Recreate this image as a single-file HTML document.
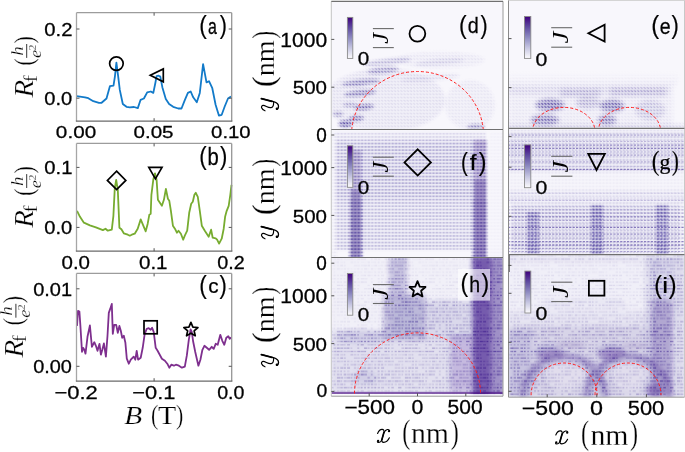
<!DOCTYPE html><html><head><meta charset="utf-8"><style>html,body{margin:0;padding:0;background:#fff;}svg{display:block;}</style></head><body><svg width="685" height="452" viewBox="0 0 685 452">
<defs>
<linearGradient id="cb" x1="0" y1="0" x2="0" y2="1"><stop offset="0" stop-color="#3f007d"/><stop offset="0.25" stop-color="#5f4ba0"/><stop offset="0.5" stop-color="#8e8bc1"/><stop offset="0.75" stop-color="#c7c7e2"/><stop offset="1" stop-color="#fcfbfd"/></linearGradient>
<filter id="b05" x="-30%" y="-30%" width="160%" height="160%"><feGaussianBlur stdDeviation="0.5"/></filter>
<filter id="b1" x="-30%" y="-30%" width="160%" height="160%"><feGaussianBlur stdDeviation="1"/></filter>
<filter id="b2" x="-30%" y="-30%" width="160%" height="160%"><feGaussianBlur stdDeviation="2"/></filter>
<filter id="b4" x="-30%" y="-30%" width="160%" height="160%"><feGaussianBlur stdDeviation="4"/></filter>
<filter id="b8" x="-30%" y="-30%" width="160%" height="160%"><feGaussianBlur stdDeviation="8"/></filter>
<pattern id="q" width="3.2" height="3.2" patternUnits="userSpaceOnUse"><path d="M0.4,0.9 L2.5,2.1" stroke="#4f3d9e" stroke-width="1.1"/></pattern>
<pattern id="qh" width="3.4" height="3.3" patternUnits="userSpaceOnUse"><rect x="0.4" y="1.1" width="2.6" height="1.1" fill="#4a3ca0"/></pattern>
<pattern id="qv" width="3.4" height="3.3" patternUnits="userSpaceOnUse"><rect x="1.1" y="0.4" width="1.1" height="2.3" fill="#4f3d9e"/></pattern>

<pattern id="qn" width="68.00" height="46.20" patternUnits="userSpaceOnUse"><rect x="0.30" y="1.00" width="1.73" height="1.3" fill="#4f3d9e" opacity="0.71"/><rect x="3.70" y="1.00" width="1.70" height="1.3" fill="#4f3d9e" opacity="0.55"/><rect x="7.10" y="1.00" width="2.38" height="1.3" fill="#4f3d9e" opacity="0.37"/><rect x="17.30" y="1.00" width="1.82" height="1.3" fill="#4f3d9e" opacity="0.81"/><rect x="20.70" y="1.00" width="3.31" height="1.3" fill="#4f3d9e" opacity="0.70"/><rect x="24.10" y="1.00" width="3.36" height="1.3" fill="#4f3d9e" opacity="0.57"/><rect x="30.90" y="1.00" width="1.86" height="1.3" fill="#4f3d9e" opacity="0.51"/><rect x="37.70" y="1.00" width="1.93" height="1.3" fill="#4f3d9e" opacity="0.80"/><rect x="41.10" y="1.00" width="2.27" height="1.3" fill="#4f3d9e" opacity="0.70"/><rect x="44.50" y="1.00" width="1.71" height="1.3" fill="#4f3d9e" opacity="0.38"/><rect x="47.90" y="1.00" width="2.37" height="1.3" fill="#4f3d9e" opacity="0.73"/><rect x="51.30" y="1.00" width="2.42" height="1.3" fill="#4f3d9e" opacity="0.67"/><rect x="54.70" y="1.00" width="2.86" height="1.3" fill="#4f3d9e" opacity="0.79"/><rect x="58.10" y="1.00" width="2.55" height="1.3" fill="#4f3d9e" opacity="0.67"/><rect x="61.50" y="1.00" width="2.12" height="1.3" fill="#4f3d9e" opacity="0.75"/><rect x="64.90" y="1.00" width="2.35" height="1.3" fill="#4f3d9e" opacity="0.41"/><rect x="0.30" y="4.30" width="1.67" height="1.3" fill="#4f3d9e" opacity="0.79"/><rect x="3.70" y="4.30" width="2.63" height="1.3" fill="#4f3d9e" opacity="0.99"/><rect x="7.10" y="4.30" width="2.85" height="1.3" fill="#4f3d9e" opacity="0.67"/><rect x="10.50" y="4.30" width="2.42" height="1.3" fill="#4f3d9e" opacity="0.86"/><rect x="13.90" y="4.30" width="2.45" height="1.3" fill="#4f3d9e" opacity="1.00"/><rect x="17.30" y="4.30" width="2.86" height="1.3" fill="#4f3d9e" opacity="0.49"/><rect x="20.70" y="4.30" width="3.08" height="1.3" fill="#4f3d9e" opacity="1.00"/><rect x="24.10" y="4.30" width="2.80" height="1.3" fill="#4f3d9e" opacity="0.72"/><rect x="30.90" y="4.30" width="1.81" height="1.3" fill="#4f3d9e" opacity="0.57"/><rect x="37.70" y="4.30" width="2.05" height="1.3" fill="#4f3d9e" opacity="0.54"/><rect x="41.10" y="4.30" width="1.75" height="1.3" fill="#4f3d9e" opacity="1.00"/><rect x="44.50" y="4.30" width="3.19" height="1.3" fill="#4f3d9e" opacity="0.84"/><rect x="47.90" y="4.30" width="2.10" height="1.3" fill="#4f3d9e" opacity="1.00"/><rect x="51.30" y="4.30" width="3.19" height="1.3" fill="#4f3d9e" opacity="0.70"/><rect x="54.70" y="4.30" width="1.92" height="1.3" fill="#4f3d9e" opacity="0.55"/><rect x="58.10" y="4.30" width="2.47" height="1.3" fill="#4f3d9e" opacity="0.61"/><rect x="61.50" y="4.30" width="1.61" height="1.3" fill="#4f3d9e" opacity="0.63"/><rect x="64.90" y="4.30" width="2.62" height="1.3" fill="#4f3d9e" opacity="0.71"/><rect x="0.30" y="7.60" width="2.71" height="1.3" fill="#4f3d9e" opacity="0.89"/><rect x="3.70" y="7.60" width="3.22" height="1.3" fill="#4f3d9e" opacity="0.53"/><rect x="7.10" y="7.60" width="3.04" height="1.3" fill="#4f3d9e" opacity="1.00"/><rect x="10.50" y="7.60" width="1.79" height="1.3" fill="#4f3d9e" opacity="0.80"/><rect x="13.90" y="7.60" width="1.72" height="1.3" fill="#4f3d9e" opacity="0.54"/><rect x="17.30" y="7.60" width="2.21" height="1.3" fill="#4f3d9e" opacity="0.62"/><rect x="27.50" y="7.60" width="2.25" height="1.3" fill="#4f3d9e" opacity="0.57"/><rect x="34.30" y="7.60" width="1.87" height="1.3" fill="#4f3d9e" opacity="0.97"/><rect x="37.70" y="7.60" width="2.26" height="1.3" fill="#4f3d9e" opacity="0.76"/><rect x="41.10" y="7.60" width="3.39" height="1.3" fill="#4f3d9e" opacity="1.00"/><rect x="44.50" y="7.60" width="1.75" height="1.3" fill="#4f3d9e" opacity="0.87"/><rect x="51.30" y="7.60" width="3.09" height="1.3" fill="#4f3d9e" opacity="0.70"/><rect x="54.70" y="7.60" width="3.31" height="1.3" fill="#4f3d9e" opacity="0.51"/><rect x="58.10" y="7.60" width="2.58" height="1.3" fill="#4f3d9e" opacity="0.60"/><rect x="64.90" y="7.60" width="3.15" height="1.3" fill="#4f3d9e" opacity="1.00"/><rect x="0.30" y="10.90" width="1.90" height="1.3" fill="#4f3d9e" opacity="0.68"/><rect x="3.70" y="10.90" width="3.00" height="1.3" fill="#4f3d9e" opacity="0.80"/><rect x="7.10" y="10.90" width="3.06" height="1.3" fill="#4f3d9e" opacity="0.59"/><rect x="10.50" y="10.90" width="3.05" height="1.3" fill="#4f3d9e" opacity="1.00"/><rect x="13.90" y="10.90" width="2.01" height="1.3" fill="#4f3d9e" opacity="0.94"/><rect x="17.30" y="10.90" width="1.65" height="1.3" fill="#4f3d9e" opacity="0.68"/><rect x="24.10" y="10.90" width="2.85" height="1.3" fill="#4f3d9e" opacity="0.61"/><rect x="27.50" y="10.90" width="3.29" height="1.3" fill="#4f3d9e" opacity="0.74"/><rect x="30.90" y="10.90" width="2.26" height="1.3" fill="#4f3d9e" opacity="1.00"/><rect x="34.30" y="10.90" width="1.95" height="1.3" fill="#4f3d9e" opacity="0.59"/><rect x="37.70" y="10.90" width="3.22" height="1.3" fill="#4f3d9e" opacity="0.86"/><rect x="41.10" y="10.90" width="2.78" height="1.3" fill="#4f3d9e" opacity="0.76"/><rect x="44.50" y="10.90" width="2.79" height="1.3" fill="#4f3d9e" opacity="0.49"/><rect x="47.90" y="10.90" width="2.95" height="1.3" fill="#4f3d9e" opacity="0.97"/><rect x="51.30" y="10.90" width="3.02" height="1.3" fill="#4f3d9e" opacity="0.55"/><rect x="54.70" y="10.90" width="3.35" height="1.3" fill="#4f3d9e" opacity="0.98"/><rect x="58.10" y="10.90" width="3.30" height="1.3" fill="#4f3d9e" opacity="0.71"/><rect x="61.50" y="10.90" width="1.83" height="1.3" fill="#4f3d9e" opacity="0.55"/><rect x="64.90" y="10.90" width="3.05" height="1.3" fill="#4f3d9e" opacity="1.00"/><rect x="0.30" y="14.20" width="2.78" height="1.3" fill="#4f3d9e" opacity="0.79"/><rect x="3.70" y="14.20" width="1.84" height="1.3" fill="#4f3d9e" opacity="0.58"/><rect x="10.50" y="14.20" width="2.55" height="1.3" fill="#4f3d9e" opacity="0.63"/><rect x="13.90" y="14.20" width="3.17" height="1.3" fill="#4f3d9e" opacity="0.52"/><rect x="17.30" y="14.20" width="2.05" height="1.3" fill="#4f3d9e" opacity="0.41"/><rect x="20.70" y="14.20" width="2.66" height="1.3" fill="#4f3d9e" opacity="0.43"/><rect x="24.10" y="14.20" width="1.84" height="1.3" fill="#4f3d9e" opacity="0.51"/><rect x="27.50" y="14.20" width="2.42" height="1.3" fill="#4f3d9e" opacity="0.48"/><rect x="30.90" y="14.20" width="2.36" height="1.3" fill="#4f3d9e" opacity="0.75"/><rect x="34.30" y="14.20" width="2.56" height="1.3" fill="#4f3d9e" opacity="0.56"/><rect x="37.70" y="14.20" width="2.39" height="1.3" fill="#4f3d9e" opacity="0.32"/><rect x="41.10" y="14.20" width="3.04" height="1.3" fill="#4f3d9e" opacity="0.31"/><rect x="44.50" y="14.20" width="2.91" height="1.3" fill="#4f3d9e" opacity="0.54"/><rect x="47.90" y="14.20" width="2.53" height="1.3" fill="#4f3d9e" opacity="0.47"/><rect x="51.30" y="14.20" width="1.79" height="1.3" fill="#4f3d9e" opacity="0.69"/><rect x="54.70" y="14.20" width="2.10" height="1.3" fill="#4f3d9e" opacity="0.43"/><rect x="58.10" y="14.20" width="2.61" height="1.3" fill="#4f3d9e" opacity="0.56"/><rect x="61.50" y="14.20" width="2.40" height="1.3" fill="#4f3d9e" opacity="0.76"/><rect x="64.90" y="14.20" width="2.52" height="1.3" fill="#4f3d9e" opacity="0.56"/><rect x="0.30" y="17.50" width="2.46" height="1.3" fill="#4f3d9e" opacity="0.80"/><rect x="3.70" y="17.50" width="3.18" height="1.3" fill="#4f3d9e" opacity="0.91"/><rect x="7.10" y="17.50" width="2.61" height="1.3" fill="#4f3d9e" opacity="0.61"/><rect x="10.50" y="17.50" width="1.85" height="1.3" fill="#4f3d9e" opacity="1.00"/><rect x="13.90" y="17.50" width="1.73" height="1.3" fill="#4f3d9e" opacity="0.74"/><rect x="17.30" y="17.50" width="2.81" height="1.3" fill="#4f3d9e" opacity="0.48"/><rect x="20.70" y="17.50" width="1.88" height="1.3" fill="#4f3d9e" opacity="1.00"/><rect x="24.10" y="17.50" width="1.86" height="1.3" fill="#4f3d9e" opacity="0.89"/><rect x="27.50" y="17.50" width="2.00" height="1.3" fill="#4f3d9e" opacity="1.00"/><rect x="30.90" y="17.50" width="2.48" height="1.3" fill="#4f3d9e" opacity="0.71"/><rect x="34.30" y="17.50" width="1.89" height="1.3" fill="#4f3d9e" opacity="1.00"/><rect x="37.70" y="17.50" width="2.21" height="1.3" fill="#4f3d9e" opacity="0.79"/><rect x="41.10" y="17.50" width="2.90" height="1.3" fill="#4f3d9e" opacity="0.65"/><rect x="47.90" y="17.50" width="1.63" height="1.3" fill="#4f3d9e" opacity="0.73"/><rect x="51.30" y="17.50" width="2.52" height="1.3" fill="#4f3d9e" opacity="0.86"/><rect x="58.10" y="17.50" width="3.35" height="1.3" fill="#4f3d9e" opacity="0.97"/><rect x="64.90" y="17.50" width="3.00" height="1.3" fill="#4f3d9e" opacity="0.46"/><rect x="0.30" y="20.80" width="3.24" height="1.3" fill="#4f3d9e" opacity="0.56"/><rect x="3.70" y="20.80" width="1.87" height="1.3" fill="#4f3d9e" opacity="0.47"/><rect x="7.10" y="20.80" width="2.86" height="1.3" fill="#4f3d9e" opacity="0.64"/><rect x="17.30" y="20.80" width="1.73" height="1.3" fill="#4f3d9e" opacity="0.56"/><rect x="20.70" y="20.80" width="3.04" height="1.3" fill="#4f3d9e" opacity="0.68"/><rect x="27.50" y="20.80" width="3.15" height="1.3" fill="#4f3d9e" opacity="0.37"/><rect x="30.90" y="20.80" width="2.60" height="1.3" fill="#4f3d9e" opacity="0.52"/><rect x="34.30" y="20.80" width="1.83" height="1.3" fill="#4f3d9e" opacity="0.48"/><rect x="37.70" y="20.80" width="1.80" height="1.3" fill="#4f3d9e" opacity="0.46"/><rect x="41.10" y="20.80" width="1.96" height="1.3" fill="#4f3d9e" opacity="0.36"/><rect x="44.50" y="20.80" width="2.97" height="1.3" fill="#4f3d9e" opacity="0.50"/><rect x="47.90" y="20.80" width="1.92" height="1.3" fill="#4f3d9e" opacity="0.60"/><rect x="51.30" y="20.80" width="2.05" height="1.3" fill="#4f3d9e" opacity="0.35"/><rect x="58.10" y="20.80" width="1.94" height="1.3" fill="#4f3d9e" opacity="0.63"/><rect x="61.50" y="20.80" width="1.79" height="1.3" fill="#4f3d9e" opacity="0.84"/><rect x="64.90" y="20.80" width="2.49" height="1.3" fill="#4f3d9e" opacity="0.57"/><rect x="0.30" y="24.10" width="2.84" height="1.3" fill="#4f3d9e" opacity="0.84"/><rect x="3.70" y="24.10" width="3.10" height="1.3" fill="#4f3d9e" opacity="0.72"/><rect x="7.10" y="24.10" width="2.33" height="1.3" fill="#4f3d9e" opacity="0.93"/><rect x="10.50" y="24.10" width="1.83" height="1.3" fill="#4f3d9e" opacity="0.50"/><rect x="17.30" y="24.10" width="1.89" height="1.3" fill="#4f3d9e" opacity="0.65"/><rect x="24.10" y="24.10" width="2.81" height="1.3" fill="#4f3d9e" opacity="1.00"/><rect x="27.50" y="24.10" width="2.13" height="1.3" fill="#4f3d9e" opacity="0.64"/><rect x="30.90" y="24.10" width="2.40" height="1.3" fill="#4f3d9e" opacity="0.58"/><rect x="34.30" y="24.10" width="3.35" height="1.3" fill="#4f3d9e" opacity="1.00"/><rect x="37.70" y="24.10" width="3.34" height="1.3" fill="#4f3d9e" opacity="0.64"/><rect x="41.10" y="24.10" width="1.60" height="1.3" fill="#4f3d9e" opacity="0.73"/><rect x="44.50" y="24.10" width="2.50" height="1.3" fill="#4f3d9e" opacity="0.81"/><rect x="47.90" y="24.10" width="1.61" height="1.3" fill="#4f3d9e" opacity="0.84"/><rect x="51.30" y="24.10" width="2.32" height="1.3" fill="#4f3d9e" opacity="0.53"/><rect x="61.50" y="24.10" width="2.65" height="1.3" fill="#4f3d9e" opacity="0.64"/><rect x="64.90" y="24.10" width="2.78" height="1.3" fill="#4f3d9e" opacity="1.00"/><rect x="0.30" y="27.40" width="2.19" height="1.3" fill="#4f3d9e" opacity="0.71"/><rect x="3.70" y="27.40" width="2.90" height="1.3" fill="#4f3d9e" opacity="0.54"/><rect x="7.10" y="27.40" width="3.10" height="1.3" fill="#4f3d9e" opacity="0.47"/><rect x="10.50" y="27.40" width="2.92" height="1.3" fill="#4f3d9e" opacity="0.87"/><rect x="13.90" y="27.40" width="2.54" height="1.3" fill="#4f3d9e" opacity="0.53"/><rect x="17.30" y="27.40" width="3.05" height="1.3" fill="#4f3d9e" opacity="1.00"/><rect x="20.70" y="27.40" width="3.21" height="1.3" fill="#4f3d9e" opacity="0.84"/><rect x="24.10" y="27.40" width="2.01" height="1.3" fill="#4f3d9e" opacity="0.92"/><rect x="30.90" y="27.40" width="1.79" height="1.3" fill="#4f3d9e" opacity="0.69"/><rect x="34.30" y="27.40" width="2.73" height="1.3" fill="#4f3d9e" opacity="0.83"/><rect x="37.70" y="27.40" width="2.48" height="1.3" fill="#4f3d9e" opacity="0.91"/><rect x="44.50" y="27.40" width="2.51" height="1.3" fill="#4f3d9e" opacity="0.96"/><rect x="47.90" y="27.40" width="1.72" height="1.3" fill="#4f3d9e" opacity="0.90"/><rect x="51.30" y="27.40" width="1.73" height="1.3" fill="#4f3d9e" opacity="0.61"/><rect x="54.70" y="27.40" width="1.97" height="1.3" fill="#4f3d9e" opacity="0.94"/><rect x="58.10" y="27.40" width="2.49" height="1.3" fill="#4f3d9e" opacity="1.00"/><rect x="61.50" y="27.40" width="2.83" height="1.3" fill="#4f3d9e" opacity="0.77"/><rect x="64.90" y="27.40" width="2.76" height="1.3" fill="#4f3d9e" opacity="0.87"/><rect x="0.30" y="30.70" width="2.94" height="1.3" fill="#4f3d9e" opacity="0.41"/><rect x="3.70" y="30.70" width="1.62" height="1.3" fill="#4f3d9e" opacity="0.56"/><rect x="10.50" y="30.70" width="2.85" height="1.3" fill="#4f3d9e" opacity="0.61"/><rect x="13.90" y="30.70" width="2.53" height="1.3" fill="#4f3d9e" opacity="0.43"/><rect x="17.30" y="30.70" width="1.81" height="1.3" fill="#4f3d9e" opacity="0.51"/><rect x="20.70" y="30.70" width="3.36" height="1.3" fill="#4f3d9e" opacity="0.39"/><rect x="24.10" y="30.70" width="2.43" height="1.3" fill="#4f3d9e" opacity="0.30"/><rect x="27.50" y="30.70" width="2.41" height="1.3" fill="#4f3d9e" opacity="0.75"/><rect x="30.90" y="30.70" width="3.30" height="1.3" fill="#4f3d9e" opacity="0.39"/><rect x="34.30" y="30.70" width="1.86" height="1.3" fill="#4f3d9e" opacity="0.56"/><rect x="37.70" y="30.70" width="1.84" height="1.3" fill="#4f3d9e" opacity="0.74"/><rect x="41.10" y="30.70" width="3.20" height="1.3" fill="#4f3d9e" opacity="0.53"/><rect x="44.50" y="30.70" width="3.22" height="1.3" fill="#4f3d9e" opacity="0.40"/><rect x="47.90" y="30.70" width="1.61" height="1.3" fill="#4f3d9e" opacity="0.30"/><rect x="51.30" y="30.70" width="2.14" height="1.3" fill="#4f3d9e" opacity="0.50"/><rect x="54.70" y="30.70" width="2.17" height="1.3" fill="#4f3d9e" opacity="0.45"/><rect x="58.10" y="30.70" width="2.95" height="1.3" fill="#4f3d9e" opacity="0.29"/><rect x="61.50" y="30.70" width="3.27" height="1.3" fill="#4f3d9e" opacity="0.35"/><rect x="64.90" y="30.70" width="2.12" height="1.3" fill="#4f3d9e" opacity="0.71"/><rect x="0.30" y="34.00" width="2.66" height="1.3" fill="#4f3d9e" opacity="0.93"/><rect x="3.70" y="34.00" width="2.10" height="1.3" fill="#4f3d9e" opacity="0.60"/><rect x="13.90" y="34.00" width="3.28" height="1.3" fill="#4f3d9e" opacity="0.52"/><rect x="17.30" y="34.00" width="2.52" height="1.3" fill="#4f3d9e" opacity="0.51"/><rect x="20.70" y="34.00" width="3.32" height="1.3" fill="#4f3d9e" opacity="0.57"/><rect x="24.10" y="34.00" width="2.74" height="1.3" fill="#4f3d9e" opacity="0.82"/><rect x="27.50" y="34.00" width="2.59" height="1.3" fill="#4f3d9e" opacity="0.90"/><rect x="30.90" y="34.00" width="2.92" height="1.3" fill="#4f3d9e" opacity="0.39"/><rect x="34.30" y="34.00" width="2.76" height="1.3" fill="#4f3d9e" opacity="0.79"/><rect x="37.70" y="34.00" width="3.27" height="1.3" fill="#4f3d9e" opacity="0.39"/><rect x="41.10" y="34.00" width="2.22" height="1.3" fill="#4f3d9e" opacity="0.63"/><rect x="44.50" y="34.00" width="3.36" height="1.3" fill="#4f3d9e" opacity="0.78"/><rect x="47.90" y="34.00" width="2.14" height="1.3" fill="#4f3d9e" opacity="0.74"/><rect x="51.30" y="34.00" width="1.90" height="1.3" fill="#4f3d9e" opacity="0.59"/><rect x="54.70" y="34.00" width="3.23" height="1.3" fill="#4f3d9e" opacity="0.48"/><rect x="58.10" y="34.00" width="3.23" height="1.3" fill="#4f3d9e" opacity="0.49"/><rect x="61.50" y="34.00" width="1.85" height="1.3" fill="#4f3d9e" opacity="0.62"/><rect x="64.90" y="34.00" width="2.22" height="1.3" fill="#4f3d9e" opacity="0.41"/><rect x="0.30" y="37.30" width="2.63" height="1.3" fill="#4f3d9e" opacity="0.42"/><rect x="3.70" y="37.30" width="2.34" height="1.3" fill="#4f3d9e" opacity="0.65"/><rect x="7.10" y="37.30" width="2.28" height="1.3" fill="#4f3d9e" opacity="0.54"/><rect x="10.50" y="37.30" width="2.10" height="1.3" fill="#4f3d9e" opacity="0.32"/><rect x="13.90" y="37.30" width="2.51" height="1.3" fill="#4f3d9e" opacity="0.36"/><rect x="17.30" y="37.30" width="1.99" height="1.3" fill="#4f3d9e" opacity="0.70"/><rect x="20.70" y="37.30" width="2.32" height="1.3" fill="#4f3d9e" opacity="0.41"/><rect x="24.10" y="37.30" width="3.13" height="1.3" fill="#4f3d9e" opacity="0.75"/><rect x="27.50" y="37.30" width="1.66" height="1.3" fill="#4f3d9e" opacity="0.31"/><rect x="30.90" y="37.30" width="2.45" height="1.3" fill="#4f3d9e" opacity="0.72"/><rect x="34.30" y="37.30" width="2.30" height="1.3" fill="#4f3d9e" opacity="0.30"/><rect x="37.70" y="37.30" width="3.14" height="1.3" fill="#4f3d9e" opacity="0.69"/><rect x="41.10" y="37.30" width="1.80" height="1.3" fill="#4f3d9e" opacity="0.41"/><rect x="44.50" y="37.30" width="2.83" height="1.3" fill="#4f3d9e" opacity="0.54"/><rect x="47.90" y="37.30" width="2.77" height="1.3" fill="#4f3d9e" opacity="0.64"/><rect x="51.30" y="37.30" width="2.59" height="1.3" fill="#4f3d9e" opacity="0.51"/><rect x="58.10" y="37.30" width="3.26" height="1.3" fill="#4f3d9e" opacity="0.41"/><rect x="61.50" y="37.30" width="1.83" height="1.3" fill="#4f3d9e" opacity="0.44"/><rect x="64.90" y="37.30" width="2.86" height="1.3" fill="#4f3d9e" opacity="0.60"/><rect x="3.70" y="40.60" width="2.30" height="1.3" fill="#4f3d9e" opacity="0.58"/><rect x="7.10" y="40.60" width="1.62" height="1.3" fill="#4f3d9e" opacity="0.59"/><rect x="10.50" y="40.60" width="3.33" height="1.3" fill="#4f3d9e" opacity="0.52"/><rect x="13.90" y="40.60" width="2.46" height="1.3" fill="#4f3d9e" opacity="0.72"/><rect x="17.30" y="40.60" width="3.33" height="1.3" fill="#4f3d9e" opacity="0.42"/><rect x="20.70" y="40.60" width="1.64" height="1.3" fill="#4f3d9e" opacity="0.45"/><rect x="24.10" y="40.60" width="2.36" height="1.3" fill="#4f3d9e" opacity="0.62"/><rect x="27.50" y="40.60" width="3.27" height="1.3" fill="#4f3d9e" opacity="0.62"/><rect x="30.90" y="40.60" width="2.21" height="1.3" fill="#4f3d9e" opacity="0.32"/><rect x="34.30" y="40.60" width="1.96" height="1.3" fill="#4f3d9e" opacity="0.63"/><rect x="37.70" y="40.60" width="2.51" height="1.3" fill="#4f3d9e" opacity="0.66"/><rect x="41.10" y="40.60" width="2.16" height="1.3" fill="#4f3d9e" opacity="0.77"/><rect x="44.50" y="40.60" width="2.00" height="1.3" fill="#4f3d9e" opacity="0.41"/><rect x="47.90" y="40.60" width="3.31" height="1.3" fill="#4f3d9e" opacity="0.44"/><rect x="51.30" y="40.60" width="2.00" height="1.3" fill="#4f3d9e" opacity="0.39"/><rect x="54.70" y="40.60" width="3.31" height="1.3" fill="#4f3d9e" opacity="0.62"/><rect x="58.10" y="40.60" width="1.98" height="1.3" fill="#4f3d9e" opacity="0.49"/><rect x="61.50" y="40.60" width="1.69" height="1.3" fill="#4f3d9e" opacity="0.37"/><rect x="0.30" y="43.90" width="2.92" height="1.3" fill="#4f3d9e" opacity="0.88"/><rect x="3.70" y="43.90" width="2.19" height="1.3" fill="#4f3d9e" opacity="0.91"/><rect x="7.10" y="43.90" width="2.94" height="1.3" fill="#4f3d9e" opacity="0.91"/><rect x="13.90" y="43.90" width="2.27" height="1.3" fill="#4f3d9e" opacity="0.58"/><rect x="17.30" y="43.90" width="1.61" height="1.3" fill="#4f3d9e" opacity="0.46"/><rect x="20.70" y="43.90" width="3.32" height="1.3" fill="#4f3d9e" opacity="0.57"/><rect x="24.10" y="43.90" width="1.97" height="1.3" fill="#4f3d9e" opacity="0.92"/><rect x="27.50" y="43.90" width="3.08" height="1.3" fill="#4f3d9e" opacity="0.84"/><rect x="30.90" y="43.90" width="2.45" height="1.3" fill="#4f3d9e" opacity="0.39"/><rect x="34.30" y="43.90" width="1.95" height="1.3" fill="#4f3d9e" opacity="0.90"/><rect x="37.70" y="43.90" width="1.65" height="1.3" fill="#4f3d9e" opacity="0.89"/><rect x="41.10" y="43.90" width="2.98" height="1.3" fill="#4f3d9e" opacity="0.84"/><rect x="54.70" y="43.90" width="2.95" height="1.3" fill="#4f3d9e" opacity="0.51"/><rect x="58.10" y="43.90" width="2.09" height="1.3" fill="#4f3d9e" opacity="0.56"/><rect x="61.50" y="43.90" width="2.07" height="1.3" fill="#4f3d9e" opacity="0.72"/><rect x="64.90" y="43.90" width="2.10" height="1.3" fill="#4f3d9e" opacity="0.55"/></pattern>
<clipPath id="cd"><rect x="331.3" y="1.3" width="171.7" height="128.2"/></clipPath>
<clipPath id="ce"><rect x="508.5" y="0" width="176.0" height="128.3"/></clipPath>
<clipPath id="cf"><rect x="331.3" y="129.5" width="171.7" height="128.0"/></clipPath>
<clipPath id="cg"><rect x="508.5" y="128.3" width="176.0" height="126.29999999999998"/></clipPath>
<clipPath id="ch"><rect x="331.3" y="257.5" width="171.7" height="138.7"/></clipPath>
<clipPath id="ci"><rect x="508.5" y="254.6" width="176.0" height="142.6"/></clipPath>
</defs>
<rect width="685" height="452" fill="#fff"/>
<rect x="331.3" y="1.3" width="171.7" height="128.2" fill="#f8f7fc"/>
<rect x="508.5" y="0" width="176.0" height="128.3" fill="#f8f7fc"/>
<rect x="331.3" y="129.5" width="171.7" height="128.0" fill="#f8f7fc"/>
<rect x="508.5" y="128.3" width="176.0" height="126.29999999999998" fill="#f8f7fc"/>
<rect x="331.3" y="257.5" width="171.7" height="138.7" fill="#f8f7fc"/>
<rect x="508.5" y="254.6" width="176.0" height="142.6" fill="#f8f7fc"/>
<mask id="md" maskUnits="userSpaceOnUse" x="311.3" y="-18.7" width="211.7" height="168.2"><g filter="url(#mbd)"><ellipse cx="385" cy="100" rx="60" ry="32" fill="#fff" fill-opacity="0.12"/><ellipse cx="440" cy="60" rx="45" ry="8" fill="#fff" fill-opacity="0.08"/><ellipse cx="470" cy="105" rx="25" ry="25" fill="#fff" fill-opacity="0.08"/><ellipse cx="387" cy="62" rx="24" ry="3" fill="#fff" fill-opacity="0.38" transform="rotate(-6 387 62)"/><ellipse cx="383" cy="70.5" rx="16" ry="3" fill="#fff" fill-opacity="0.55" transform="rotate(-6 383 70.5)"/><ellipse cx="361" cy="82.4" rx="19" ry="3" fill="#fff" fill-opacity="0.7" transform="rotate(-6 361 82.4)"/><ellipse cx="360" cy="93.3" rx="16" ry="3" fill="#fff" fill-opacity="0.75" transform="rotate(-6 360 93.3)"/><ellipse cx="364" cy="107.2" rx="10" ry="3" fill="#fff" fill-opacity="0.8" transform="rotate(-6 364 107.2)"/><ellipse cx="350" cy="105" rx="7" ry="2.5" fill="#fff" fill-opacity="0.45"/><ellipse cx="338" cy="114" rx="5" ry="2.5" fill="#fff" fill-opacity="0.55"/><ellipse cx="356" cy="118.5" rx="8" ry="3" fill="#fff" fill-opacity="0.75" transform="rotate(-6 356 118.5)"/><ellipse cx="345.5" cy="124" rx="7" ry="3.5" fill="#fff" fill-opacity="1.0"/><ellipse cx="476" cy="127" rx="9" ry="3" fill="#fff" fill-opacity="0.6"/><ellipse cx="440" cy="62" rx="25" ry="3" fill="#fff" fill-opacity="0.18" transform="rotate(-5 440 62)"/><ellipse cx="430" cy="78" rx="30" ry="3" fill="#fff" fill-opacity="0.15" transform="rotate(-5 430 78)"/></g></mask>
<filter id="mbd" x="-20%" y="-20%" width="140%" height="140%"><feGaussianBlur stdDeviation="1.6"/></filter>
<g clip-path="url(#cd)">
<rect x="331.3" y="1.3" width="171.7" height="128.2" fill="#7570b3" opacity="0.4" mask="url(#md)"/>
<rect x="331.3" y="1.3" width="171.7" height="128.2" fill="url(#q)" opacity="1.0" mask="url(#md)"/>
</g>
<mask id="me" maskUnits="userSpaceOnUse" x="488.5" y="-20" width="216.0" height="168.3"><g filter="url(#mbe)"><rect x="508" y="74" width="170" height="4" fill="#fff" fill-opacity="0.025"/><rect x="508" y="78" width="170" height="4" fill="#fff" fill-opacity="0.05"/><rect x="508" y="82" width="168" height="4" fill="#fff" fill-opacity="0.08"/><rect x="508" y="85" width="165" height="44" fill="#fff" fill-opacity="0.08"/><rect x="508" y="87" width="162" height="8" fill="#fff" fill-opacity="0.14"/><rect x="560" y="89" width="40" height="8" fill="#fff" fill-opacity="0.3"/><rect x="610" y="88" width="55" height="8" fill="#fff" fill-opacity="0.3"/><ellipse cx="550" cy="105" rx="14" ry="6" fill="#fff" fill-opacity="0.9"/><ellipse cx="612" cy="106" rx="12" ry="6" fill="#fff" fill-opacity="0.85"/><ellipse cx="545" cy="120" rx="14" ry="5" fill="#fff" fill-opacity="0.8"/><ellipse cx="607" cy="120" rx="9" ry="5" fill="#fff" fill-opacity="0.75"/><ellipse cx="588" cy="103" rx="12" ry="6" fill="#fff" fill-opacity="0.35"/><ellipse cx="650" cy="110" rx="15" ry="10" fill="#fff" fill-opacity="0.25"/><rect x="508" y="125" width="177" height="3" fill="#fff" fill-opacity="0.3"/></g></mask>
<filter id="mbe" x="-20%" y="-20%" width="140%" height="140%"><feGaussianBlur stdDeviation="2.0"/></filter>
<g clip-path="url(#ce)">
<rect x="508.5" y="0" width="176.0" height="128.3" fill="#7570b3" opacity="0.4" mask="url(#me)"/>
<rect x="508.5" y="0" width="176.0" height="128.3" fill="url(#q)" opacity="1.0" mask="url(#me)"/>
</g>
<mask id="mf" maskUnits="userSpaceOnUse" x="311.3" y="109.5" width="211.7" height="168.0"><g filter="url(#mbf)"><rect x="336" y="132" width="150" height="8" fill="#fff" fill-opacity="0.2"/><rect x="336" y="140" width="150" height="60" fill="#fff" fill-opacity="0.45"/><rect x="336" y="200" width="150" height="50" fill="#fff" fill-opacity="0.35"/><rect x="331" y="132" width="6" height="126" fill="#fff" fill-opacity="0.08"/><rect x="490" y="132" width="14" height="126" fill="#fff" fill-opacity="0.04"/><rect x="349" y="150" width="14" height="50" fill="#fff" fill-opacity="0.45"/><rect x="349" y="200" width="14" height="58" fill="#fff" fill-opacity="0.8"/><rect x="352" y="215" width="8" height="43" fill="#fff" fill-opacity="0.35"/><rect x="472" y="140" width="15" height="60" fill="#fff" fill-opacity="0.5"/><rect x="472" y="200" width="15" height="58" fill="#fff" fill-opacity="0.85"/><rect x="475" y="215" width="9" height="43" fill="#fff" fill-opacity="0.35"/></g></mask>
<filter id="mbf" x="-20%" y="-20%" width="140%" height="140%"><feGaussianBlur stdDeviation="1.2"/></filter>
<g clip-path="url(#cf)">
<rect x="331.3" y="129.5" width="171.7" height="128.0" fill="#7570b3" opacity="0.18" mask="url(#mf)"/>
<rect x="331.3" y="129.5" width="171.7" height="128.0" fill="url(#qh)" opacity="1.0" mask="url(#mf)"/>
<rect x="331.3" y="129.5" width="171.7" height="128.0" fill="url(#qv)" opacity="0.12" mask="url(#mf)"/>
</g>
<g clip-path="url(#cf)"><g filter="url(#b1)">
<rect x="351" y="190" width="10" height="68" fill="#4a2a90" opacity="0.42"/>
<rect x="351" y="150" width="10" height="40" fill="#4a2a90" opacity="0.18"/>
<rect x="474" y="180" width="12" height="78" fill="#4a2a90" opacity="0.45"/>
<rect x="474" y="140" width="12" height="40" fill="#4a2a90" opacity="0.2"/>
</g></g>
<mask id="mg" maskUnits="userSpaceOnUse" x="488.5" y="108.30000000000001" width="216.0" height="166.29999999999998"><g filter="url(#mbg)"><rect x="508" y="129" width="177" height="126" fill="#fff" fill-opacity="0.04"/><rect x="508" y="131" width="177" height="41" fill="#fff" fill-opacity="0.15"/><rect x="508" y="190" width="177" height="14" fill="#fff" fill-opacity="0.08"/><rect x="512" y="204" width="168" height="50" fill="#fff" fill-opacity="0.15"/><rect x="527" y="212" width="12" height="42" fill="#fff" fill-opacity="0.7"/><rect x="591" y="205" width="12" height="50" fill="#fff" fill-opacity="0.75"/><rect x="656" y="205" width="12" height="50" fill="#fff" fill-opacity="0.7"/></g></mask>
<filter id="mbg" x="-20%" y="-20%" width="140%" height="140%"><feGaussianBlur stdDeviation="0.8"/></filter>
<g clip-path="url(#cg)">
<rect x="508.5" y="128.3" width="176.0" height="126.29999999999998" fill="#7570b3" opacity="0.35" mask="url(#mg)"/>
<rect x="508.5" y="128.3" width="176.0" height="126.29999999999998" fill="url(#qh)" opacity="1.0" mask="url(#mg)"/>
<rect x="508.5" y="128.3" width="176.0" height="126.29999999999998" fill="url(#qv)" opacity="0.5" mask="url(#mg)"/>
</g>
<g clip-path="url(#cg)">
<line x1="508" y1="135.2" x2="685" y2="135.2" stroke="#4f3d9e" stroke-width="1.2" stroke-dasharray="2.2,1.2" opacity="0.35"/>
<line x1="508" y1="141.5" x2="685" y2="141.5" stroke="#4f3d9e" stroke-width="1.2" stroke-dasharray="2.2,1.2" opacity="0.3"/>
<line x1="508" y1="145.2" x2="685" y2="145.2" stroke="#4f3d9e" stroke-width="1.3" stroke-dasharray="2.2,1.2" opacity="0.55"/>
<line x1="508" y1="148.4" x2="685" y2="148.4" stroke="#4f3d9e" stroke-width="1.3" stroke-dasharray="2.2,1.2" opacity="0.6"/>
<line x1="508" y1="151.9" x2="685" y2="151.9" stroke="#4f3d9e" stroke-width="1.1" stroke-dasharray="2.2,1.2" opacity="0.25"/>
<line x1="508" y1="155.1" x2="685" y2="155.1" stroke="#4f3d9e" stroke-width="1.2" stroke-dasharray="2.2,1.2" opacity="0.4"/>
<line x1="508" y1="161.9" x2="685" y2="161.9" stroke="#4f3d9e" stroke-width="1.2" stroke-dasharray="2.2,1.2" opacity="0.35"/>
<line x1="508" y1="166.2" x2="685" y2="166.2" stroke="#4f3d9e" stroke-width="1.1" stroke-dasharray="2.2,1.2" opacity="0.2"/>
<line x1="508" y1="169.4" x2="685" y2="169.4" stroke="#4f3d9e" stroke-width="1.3" stroke-dasharray="2.2,1.2" opacity="0.6"/>
<line x1="508" y1="193.3" x2="685" y2="193.3" stroke="#4f3d9e" stroke-width="1" stroke-dasharray="2.2,1.2" opacity="0.12"/>
<line x1="508" y1="198" x2="685" y2="198" stroke="#4f3d9e" stroke-width="1" stroke-dasharray="2.2,1.2" opacity="0.12"/>
<line x1="508" y1="200.4" x2="685" y2="200.4" stroke="#4f3d9e" stroke-width="1.1" stroke-dasharray="2.2,1.2" opacity="0.25"/>
<line x1="508" y1="206.9" x2="685" y2="206.9" stroke="#4f3d9e" stroke-width="1.1" stroke-dasharray="2.2,1.2" opacity="0.2"/>
<line x1="508" y1="209.9" x2="685" y2="209.9" stroke="#4f3d9e" stroke-width="1.2" stroke-dasharray="2.2,1.2" opacity="0.35"/>
<line x1="508" y1="213.2" x2="685" y2="213.2" stroke="#4f3d9e" stroke-width="1.2" stroke-dasharray="2.2,1.2" opacity="0.4"/>
<line x1="508" y1="216.9" x2="685" y2="216.9" stroke="#4f3d9e" stroke-width="1.4" stroke-dasharray="2.2,1.2" opacity="0.6"/>
<line x1="508" y1="220.4" x2="685" y2="220.4" stroke="#4f3d9e" stroke-width="1.2" stroke-dasharray="2.2,1.2" opacity="0.4"/>
<line x1="508" y1="224" x2="685" y2="224" stroke="#4f3d9e" stroke-width="1.1" stroke-dasharray="2.2,1.2" opacity="0.25"/>
<line x1="508" y1="227.4" x2="685" y2="227.4" stroke="#4f3d9e" stroke-width="1.4" stroke-dasharray="2.2,1.2" opacity="0.65"/>
<line x1="508" y1="230.8" x2="685" y2="230.8" stroke="#4f3d9e" stroke-width="1.1" stroke-dasharray="2.2,1.2" opacity="0.25"/>
<line x1="508" y1="234.2" x2="685" y2="234.2" stroke="#4f3d9e" stroke-width="1.3" stroke-dasharray="2.2,1.2" opacity="0.5"/>
<line x1="508" y1="238" x2="685" y2="238" stroke="#4f3d9e" stroke-width="1.2" stroke-dasharray="2.2,1.2" opacity="0.4"/>
<line x1="508" y1="241.6" x2="685" y2="241.6" stroke="#4f3d9e" stroke-width="1.4" stroke-dasharray="2.2,1.2" opacity="0.6"/>
<line x1="508" y1="245" x2="685" y2="245" stroke="#4f3d9e" stroke-width="1.4" stroke-dasharray="2.2,1.2" opacity="0.6"/>
<line x1="508" y1="248.4" x2="685" y2="248.4" stroke="#4f3d9e" stroke-width="1.2" stroke-dasharray="2.2,1.2" opacity="0.4"/>
<line x1="508" y1="251.5" x2="685" y2="251.5" stroke="#4f3d9e" stroke-width="1.2" stroke-dasharray="2.2,1.2" opacity="0.4"/>
</g>
<mask id="mh" maskUnits="userSpaceOnUse" x="311.3" y="237.5" width="211.7" height="178.7"><g filter="url(#mbh)"><rect x="331" y="257" width="172" height="140" fill="#fff" fill-opacity="0.1"/><rect x="389" y="257" width="18" height="45" fill="#fff" fill-opacity="0.55"/><rect x="383" y="295" width="42" height="45" fill="#fff" fill-opacity="0.6"/><rect x="420" y="300" width="52" height="40" fill="#fff" fill-opacity="0.4"/><ellipse cx="405" cy="318" rx="14" ry="18" fill="#fff" fill-opacity="0.35"/><rect x="331" y="330" width="59" height="62" fill="#fff" fill-opacity="0.3"/><ellipse cx="365" cy="377" rx="12" ry="7" fill="#fff" fill-opacity="0.4"/><ellipse cx="362" cy="337" rx="25" ry="7" fill="#fff" fill-opacity="0.4"/><rect x="390" y="340" width="60" height="52" fill="#fff" fill-opacity="0.28"/><rect x="450" y="335" width="22" height="57" fill="#fff" fill-opacity="0.5"/><rect x="472" y="257" width="19" height="140" fill="#fff" fill-opacity="1.0"/><rect x="491" y="257" width="13" height="140" fill="#fff" fill-opacity="0.8"/></g></mask>
<filter id="mbh" x="-20%" y="-20%" width="140%" height="140%"><feGaussianBlur stdDeviation="2.0"/></filter>
<g clip-path="url(#ch)">
<rect x="331.3" y="257.5" width="171.7" height="138.7" fill="#7570b3" opacity="0.48" mask="url(#mh)"/>
<rect x="331.3" y="257.5" width="171.7" height="138.7" fill="url(#qn)" opacity="1.0" mask="url(#mh)"/>
</g>
<g clip-path="url(#ch)"><g filter="url(#b2)">
<rect x="473" y="257" width="18" height="140" fill="#4a2090" opacity="0.6"/>
<rect x="491" y="257" width="13" height="140" fill="#4a2090" opacity="0.3"/>
<rect x="450" y="335" width="22" height="57" fill="#4a2090" opacity="0.12"/>
<rect x="385" y="295" width="40" height="45" fill="#5a44a0" opacity="0.12"/>
<rect x="389" y="257" width="18" height="40" fill="#5a44a0" opacity="0.1"/>
</g></g>
<g clip-path="url(#ch)"><g filter="url(#b05)">
<rect x="331" y="391.8" width="172" height="2.2" fill="#3f007d" opacity="0.6"/>
<rect x="331" y="394" width="172" height="2.2" fill="#ffffff" opacity="0.8"/>
</g></g>
<mask id="mi" maskUnits="userSpaceOnUse" x="488.5" y="234.6" width="216.0" height="182.6"><g filter="url(#mbi)"><rect x="508" y="255" width="177" height="143" fill="#fff" fill-opacity="0.12"/><rect x="508" y="256" width="177" height="6" fill="#fff" fill-opacity="0.15"/><rect x="545" y="301" width="80" height="2" fill="#fff" fill-opacity="0.35"/><rect x="545" y="307" width="80" height="2" fill="#fff" fill-opacity="0.3"/><rect x="508" y="312" width="148" height="14" fill="#fff" fill-opacity="0.18"/><rect x="645" y="257" width="11" height="140" fill="#fff" fill-opacity="0.3"/><rect x="652" y="257" width="20" height="45" fill="#fff" fill-opacity="0.5"/><rect x="652" y="300" width="20" height="97" fill="#fff" fill-opacity="0.7"/><rect x="672" y="257" width="13" height="140" fill="#fff" fill-opacity="0.35"/><rect x="508" y="326" width="148" height="71" fill="#fff" fill-opacity="0.35"/><rect x="508" y="330" width="24" height="65" fill="#fff" fill-opacity="0.45"/><path d="M525.1,397 A39,39 0 0 1 603.1,397" fill="none" stroke="#fff" stroke-opacity="0.85" stroke-width="9"/><path d="M589,397 A39,39 0 0 1 667,397" fill="none" stroke="#fff" stroke-opacity="0.85" stroke-width="9"/><ellipse cx="548" cy="352" rx="14" ry="8" fill="#fff" fill-opacity="0.6"/><ellipse cx="610" cy="352" rx="14" ry="8" fill="#fff" fill-opacity="0.6"/><ellipse cx="655" cy="390" rx="10" ry="6" fill="#fff" fill-opacity="0.6"/></g></mask>
<filter id="mbi" x="-20%" y="-20%" width="140%" height="140%"><feGaussianBlur stdDeviation="2.0"/></filter>
<g clip-path="url(#ci)">
<rect x="508.5" y="254.6" width="176.0" height="142.6" fill="#7570b3" opacity="0.48" mask="url(#mi)"/>
<rect x="508.5" y="254.6" width="176.0" height="142.6" fill="url(#qn)" opacity="1.0" mask="url(#mi)"/>
</g>
<g clip-path="url(#ci)"><g filter="url(#b2)">
<ellipse cx="566" cy="372" rx="20" ry="18" fill="#ffffff" opacity="0.3"/>
<ellipse cx="630" cy="374" rx="18" ry="17" fill="#ffffff" opacity="0.3"/>
<ellipse cx="551" cy="355" rx="14" ry="6" fill="#4a2090" opacity="0.25"/>
<ellipse cx="612" cy="354" rx="14" ry="6" fill="#4a2090" opacity="0.25"/>
<ellipse cx="570" cy="345" rx="16" ry="3" fill="#4a2090" opacity="0.15"/>
<ellipse cx="634" cy="346" rx="14" ry="3" fill="#4a2090" opacity="0.15"/>
<rect x="508" y="326" width="148" height="71" fill="#5a44a0" opacity="0.05"/>
<rect x="652" y="300" width="20" height="97" fill="#4a2090" opacity="0.2"/>
<ellipse cx="655" cy="390" rx="8" ry="6" fill="#4a2090" opacity="0.35"/>
</g></g>
<g clip-path="url(#ci)"><g filter="url(#b05)">
<rect x="508" y="255" width="1.6" height="17" fill="#000" opacity="0.8"/>
</g></g>
<g clip-path="url(#ci)"><g filter="url(#b2)" fill="none" stroke="#4a2090" stroke-width="6" opacity="0.22">
<path d="M522,397 A42,41 0 0 1 606,397"/><path d="M586,397 A42,41 0 0 1 670,397"/>
</g></g>
<rect x="458" y="269" width="32" height="31.6" fill="#fff" opacity="0.6"/>
<g clip-path="url(#cd)"><path d="M351.5,135 A66,63.5 0 0 1 483.5,135" fill="none" stroke="#ff2020" stroke-width="1.0" stroke-dasharray="3,2"/></g>
<g clip-path="url(#ce)"><path d="M532.5999999999999,131.5 A31.2,24.1 0 0 1 595.0,131.5" fill="none" stroke="#ff2020" stroke-width="1.0" stroke-dasharray="3,2"/></g>
<g clip-path="url(#ce)"><path d="M598.3,131.5 A31.2,24.1 0 0 1 660.7,131.5" fill="none" stroke="#ff2020" stroke-width="1.0" stroke-dasharray="3,2"/></g>
<g clip-path="url(#ch)"><path d="M354.5,393.5 A63,60.6 0 0 1 480.5,393.5" fill="none" stroke="#ff2020" stroke-width="1.0" stroke-dasharray="3,2"/></g>
<g clip-path="url(#ci)"><path d="M531.1,395.2 A33,32.2 0 0 1 597.1,395.2" fill="none" stroke="#ff2020" stroke-width="1.0" stroke-dasharray="3,2"/></g>
<g clip-path="url(#ci)"><path d="M595,395.2 A33,32.2 0 0 1 661,395.2" fill="none" stroke="#ff2020" stroke-width="1.0" stroke-dasharray="3,2"/></g>
<line x1="331.3" y1="1.3" x2="331.3" y2="129.5" stroke="#c4c4c4" stroke-width="1"/>
<line x1="503" y1="1.3" x2="503" y2="129.5" stroke="#9a9a9a" stroke-width="1"/>
<line x1="331.3" y1="1.3" x2="503" y2="1.3" stroke="#707070" stroke-width="1.2"/>
<line x1="508.5" y1="0" x2="508.5" y2="128.3" stroke="#8a8a8a" stroke-width="1"/>
<line x1="684.5" y1="0" x2="684.5" y2="128.3" stroke="#c8c8c8" stroke-width="1"/>
<line x1="508.5" y1="0.4" x2="684.5" y2="0.4" stroke="#d4d4d4" stroke-width="1.2"/>
<line x1="331.3" y1="129.5" x2="331.3" y2="257.5" stroke="#c4c4c4" stroke-width="1"/>
<line x1="503" y1="129.5" x2="503" y2="257.5" stroke="#9a9a9a" stroke-width="1"/>
<line x1="331.3" y1="129.5" x2="503" y2="129.5" stroke="#707070" stroke-width="1.2"/>
<line x1="508.5" y1="128.3" x2="508.5" y2="254.6" stroke="#8a8a8a" stroke-width="1"/>
<line x1="684.5" y1="128.3" x2="684.5" y2="254.6" stroke="#c8c8c8" stroke-width="1"/>
<line x1="508.5" y1="128.3" x2="684.5" y2="128.3" stroke="#707070" stroke-width="1.2"/>
<line x1="331.3" y1="257.5" x2="331.3" y2="396.2" stroke="#c4c4c4" stroke-width="1"/>
<line x1="503" y1="257.5" x2="503" y2="396.2" stroke="#9a9a9a" stroke-width="1"/>
<line x1="331.3" y1="396.2" x2="503" y2="396.2" stroke="#999" stroke-width="1"/>
<line x1="331.3" y1="257.5" x2="503" y2="257.5" stroke="#707070" stroke-width="1.2"/>
<line x1="508.5" y1="254.6" x2="508.5" y2="397.2" stroke="#8a8a8a" stroke-width="1"/>
<line x1="684.5" y1="254.6" x2="684.5" y2="397.2" stroke="#c8c8c8" stroke-width="1"/>
<line x1="508.5" y1="397.2" x2="684.5" y2="397.2" stroke="#999" stroke-width="1"/>
<line x1="508.5" y1="254.6" x2="684.5" y2="254.6" stroke="#707070" stroke-width="1.2"/>
<line x1="331.3" y1="39.4" x2="334.3" y2="39.4" stroke="#555" stroke-width="1"/>
<line x1="331.3" y1="87.2" x2="334.3" y2="87.2" stroke="#555" stroke-width="1"/>
<line x1="331.3" y1="135.0" x2="334.3" y2="135.0" stroke="#555" stroke-width="1"/>
<line x1="331.3" y1="167.6" x2="334.3" y2="167.6" stroke="#555" stroke-width="1"/>
<line x1="331.3" y1="215.4" x2="334.3" y2="215.4" stroke="#555" stroke-width="1"/>
<line x1="331.3" y1="263.2" x2="334.3" y2="263.2" stroke="#555" stroke-width="1"/>
<line x1="331.3" y1="295.8" x2="334.3" y2="295.8" stroke="#555" stroke-width="1"/>
<line x1="331.3" y1="343.6" x2="334.3" y2="343.6" stroke="#555" stroke-width="1"/>
<line x1="331.3" y1="391.4" x2="334.3" y2="391.4" stroke="#555" stroke-width="1"/>
<line x1="508.5" y1="38.6" x2="511.5" y2="38.6" stroke="#555" stroke-width="1"/>
<line x1="508.5" y1="87.6" x2="511.5" y2="87.6" stroke="#555" stroke-width="1"/>
<line x1="508.5" y1="136.6" x2="511.5" y2="136.6" stroke="#555" stroke-width="1"/>
<line x1="508.5" y1="167.2" x2="511.5" y2="167.2" stroke="#555" stroke-width="1"/>
<line x1="508.5" y1="216.3" x2="511.5" y2="216.3" stroke="#555" stroke-width="1"/>
<line x1="508.5" y1="265.4" x2="511.5" y2="265.4" stroke="#555" stroke-width="1"/>
<line x1="508.5" y1="293.3" x2="511.5" y2="293.3" stroke="#555" stroke-width="1"/>
<line x1="508.5" y1="342.3" x2="511.5" y2="342.3" stroke="#555" stroke-width="1"/>
<line x1="508.5" y1="391.3" x2="511.5" y2="391.3" stroke="#555" stroke-width="1"/>
<line x1="369.2" y1="396.2" x2="369.2" y2="393.2" stroke="#555" stroke-width="1"/>
<line x1="417.5" y1="396.2" x2="417.5" y2="393.2" stroke="#555" stroke-width="1"/>
<line x1="465.8" y1="396.2" x2="465.8" y2="393.2" stroke="#555" stroke-width="1"/>
<line x1="547.2" y1="397.2" x2="547.2" y2="394.2" stroke="#555" stroke-width="1"/>
<line x1="596.8" y1="397.2" x2="596.8" y2="394.2" stroke="#555" stroke-width="1"/>
<line x1="646.4" y1="397.2" x2="646.4" y2="394.2" stroke="#555" stroke-width="1"/>
<polyline points="76.60,96.20 85.00,97.30 88.30,98.20 93.30,101.20 99.00,102.80 101.60,102.80 106.50,98.50 109.90,86.20 113.50,85.70 114.90,76.60 116.40,62.60 118.20,76.60 119.80,89.90 122.80,104.00 126.50,106.80 129.80,107.30 134.00,107.00 137.80,108.10 140.60,99.80 143.90,98.50 147.20,92.40 150.80,91.50 153.30,92.90 155.30,83.20 156.60,76.20 158.60,75.70 160.30,76.60 162.40,87.40 165.80,99.00 169.10,104.00 173.20,106.80 178.20,108.50 181.50,108.50 184.90,99.80 187.90,92.90 190.70,91.50 193.20,97.30 196.80,102.30 199.80,92.90 203.10,64.10 206.50,82.40 209.00,81.20 212.30,88.20 215.60,104.80 218.90,115.60 221.70,114.80 224.70,106.50 228.00,98.50 231.00,96.50" fill="none" stroke="#127ac9" stroke-width="1.8" stroke-linejoin="round"/>
<line x1="76.5" y1="12.7" x2="231.7" y2="12.7" stroke="#9c9c9c" stroke-width="1.3"/>
<line x1="76.5" y1="12.7" x2="76.5" y2="121.2" stroke="#a6a6a6" stroke-width="1.3"/>
<line x1="231.7" y1="12.7" x2="231.7" y2="121.2" stroke="#959595" stroke-width="1.3"/>
<line x1="75.85" y1="121.2" x2="232.35" y2="121.2" stroke="#6a6a6a" stroke-width="1.3"/>
<line x1="76.5" y1="29" x2="79.5" y2="29" stroke="#555" stroke-width="1"/>
<line x1="231.7" y1="29" x2="228.7" y2="29" stroke="#555" stroke-width="1"/>
<line x1="76.5" y1="98.2" x2="79.5" y2="98.2" stroke="#555" stroke-width="1"/>
<line x1="231.7" y1="98.2" x2="228.7" y2="98.2" stroke="#555" stroke-width="1"/>
<line x1="154.1" y1="121.2" x2="154.1" y2="118.2" stroke="#555" stroke-width="1"/>
<line x1="154.1" y1="12.7" x2="154.1" y2="15.7" stroke="#555" stroke-width="1"/>
<polyline points="77.00,210.80 80.00,216.80 83.90,222.70 89.90,225.30 95.90,227.30 102.90,230.10 105.50,228.70 107.80,230.70 111.80,229.70 113.40,215.80 114.80,187.90 116.20,179.90 117.80,189.90 119.40,227.70 121.40,229.30 123.80,233.30 127.80,234.70 129.80,235.70 131.80,234.70 134.70,233.70 137.70,228.70 140.70,219.40 143.30,225.70 145.70,231.30 147.70,223.70 149.30,214.80 150.70,213.80 151.40,194.80 153.40,178.90 155.00,173.30 156.60,179.90 157.90,199.80 159.90,202.80 161.90,205.80 163.90,199.80 165.90,188.90 167.90,198.80 169.30,200.80 170.90,210.80 172.90,225.70 174.90,228.70 176.90,232.70 178.50,230.70 180.90,233.70 183.20,239.70 184.80,235.70 187.20,230.70 189.20,212.80 191.20,203.80 192.80,201.80 194.40,194.80 195.80,192.80 197.80,196.80 199.80,210.80 201.80,225.70 204.80,230.70 208.70,236.70 211.10,229.70 212.70,237.70 215.70,238.30 217.10,239.70 219.10,243.60 221.70,238.70 223.70,228.70 225.10,216.80 226.70,210.80 228.70,205.80 230.30,194.80 231.50,184.90" fill="none" stroke="#77ac30" stroke-width="1.8" stroke-linejoin="round"/>
<line x1="76.5" y1="143.4" x2="231.7" y2="143.4" stroke="#9c9c9c" stroke-width="1.3"/>
<line x1="76.5" y1="143.4" x2="76.5" y2="251.2" stroke="#a6a6a6" stroke-width="1.3"/>
<line x1="231.7" y1="143.4" x2="231.7" y2="251.2" stroke="#959595" stroke-width="1.3"/>
<line x1="75.85" y1="251.2" x2="232.35" y2="251.2" stroke="#6a6a6a" stroke-width="1.3"/>
<line x1="76.5" y1="167.4" x2="79.5" y2="167.4" stroke="#555" stroke-width="1"/>
<line x1="231.7" y1="167.4" x2="228.7" y2="167.4" stroke="#555" stroke-width="1"/>
<line x1="76.5" y1="227.4" x2="79.5" y2="227.4" stroke="#555" stroke-width="1"/>
<line x1="231.7" y1="227.4" x2="228.7" y2="227.4" stroke="#555" stroke-width="1"/>
<line x1="154.1" y1="251.2" x2="154.1" y2="248.2" stroke="#555" stroke-width="1"/>
<line x1="154.1" y1="143.4" x2="154.1" y2="146.4" stroke="#555" stroke-width="1"/>
<polyline points="77.00,325.90 78.00,310.90 79.40,311.50 80.40,325.90 82.00,351.80 83.10,347.80 84.30,349.80 85.50,353.70 87.50,336.80 89.90,325.50 91.90,346.80 94.30,342.20 95.90,345.80 97.50,350.80 99.50,343.80 100.90,354.70 102.30,349.80 103.90,343.40 105.90,356.70 107.50,335.80 108.80,312.90 110.20,308.90 111.80,303.90 112.80,333.80 114.20,324.90 116.20,324.90 117.80,332.80 119.40,325.90 120.80,330.80 122.20,337.80 123.80,335.80 125.40,342.80 126.80,358.70 128.80,363.70 130.80,359.70 133.70,356.70 135.30,359.70 136.70,350.80 138.10,359.70 140.70,357.70 142.70,347.80 144.70,333.80 146.70,328.80 148.70,328.20 150.70,329.80 152.10,327.80 153.70,331.80 155.70,347.80 157.60,350.80 159.20,353.70 161.90,358.70 164.90,360.70 167.30,363.70 169.30,367.70 171.30,364.70 173.90,365.70 175.90,364.70 178.90,365.70 181.90,367.70 184.80,366.70 186.80,355.70 188.80,339.80 190.60,329.40 191.80,331.80 193.20,341.80 195.20,351.80 196.80,358.70 198.40,365.70 200.40,359.70 202.40,349.80 204.40,345.80 206.80,347.80 209.10,349.80 211.70,346.80 213.70,348.80 215.70,343.80 217.70,344.80 220.30,334.80 222.30,340.80 224.30,344.80 226.30,337.80 228.30,336.20 229.70,338.80 231.10,337.40" fill="none" stroke="#7e2f8e" stroke-width="1.8" stroke-linejoin="round"/>
<line x1="76.5" y1="273.4" x2="231.7" y2="273.4" stroke="#9c9c9c" stroke-width="1.3"/>
<line x1="76.5" y1="273.4" x2="76.5" y2="381.2" stroke="#a6a6a6" stroke-width="1.3"/>
<line x1="231.7" y1="273.4" x2="231.7" y2="381.2" stroke="#959595" stroke-width="1.3"/>
<line x1="75.85" y1="381.2" x2="232.35" y2="381.2" stroke="#6a6a6a" stroke-width="1.3"/>
<line x1="76.5" y1="288.8" x2="79.5" y2="288.8" stroke="#555" stroke-width="1"/>
<line x1="231.7" y1="288.8" x2="228.7" y2="288.8" stroke="#555" stroke-width="1"/>
<line x1="76.5" y1="366.3" x2="79.5" y2="366.3" stroke="#555" stroke-width="1"/>
<line x1="231.7" y1="366.3" x2="228.7" y2="366.3" stroke="#555" stroke-width="1"/>
<line x1="154.1" y1="381.2" x2="154.1" y2="378.2" stroke="#555" stroke-width="1"/>
<line x1="154.1" y1="273.4" x2="154.1" y2="276.4" stroke="#555" stroke-width="1"/>
<g fill="none" stroke="#000" stroke-width="1.7">
<circle cx="116.4" cy="63.6" r="6.8"/>
<polygon points="150.3,75.3 163.3,68.9 163.3,81.8"/>
<polygon points="116.6,171.2 125.8,180.4 116.6,189.6 107.4,180.4"/>
<polygon points="148.8,167.3 162,167.3 155.4,178.9"/>
<rect x="144.0" y="320.8" width="13.2" height="13.0"/>
<polygon points="190.90,322.40 192.90,327.05 197.94,327.51 194.13,330.85 195.25,335.79 190.90,333.20 186.55,335.79 187.67,330.85 183.86,327.51 188.90,327.05" stroke-linejoin="round"/>
<circle cx="417.4" cy="33.8" r="7.9" stroke-width="1.8"/>
<polygon points="588.4,33.2 604.6,24.8 604.6,41.5" stroke-width="1.8"/>
<polygon points="417.7,149.3 430.9,162.4 417.7,175.6 404.5,162.4" stroke-width="1.8"/>
<polygon points="588.3,153.8 604.8,153.8 596.5,170.0" stroke-width="1.8"/>
<rect x="588.9" y="280.8" width="15.5" height="14.8" stroke-width="1.8"/>
<polygon points="417.50,281.20 419.73,286.53 425.49,287.00 421.11,290.77 422.44,296.40 417.50,293.40 412.56,296.40 413.89,290.77 409.51,287.00 415.27,286.53" stroke-width="1.8" stroke-linejoin="round"/>
</g>
<line x1="26.7" y1="44" x2="26.7" y2="57.9" stroke="#000" stroke-width="0.8"/>
<line x1="26.7" y1="174.1" x2="26.7" y2="188.0" stroke="#000" stroke-width="0.8"/>
<line x1="15.899999999999999" y1="303.8" x2="15.899999999999999" y2="317.7" stroke="#000" stroke-width="0.8"/>
<g opacity="0.999">
<text transform="matrix(0.20231 0.00000 0.00000 0.17746 44.291 35.823)" font-size="100" font-family="&quot;Liberation Sans&quot;, sans-serif" font-style="normal" fill="#000" stroke="#000" stroke-width="1.58">0.2</text>
<text transform="matrix(0.20076 0.00000 0.00000 0.17746 44.297 105.123)" font-size="100" font-family="&quot;Liberation Sans&quot;, sans-serif" font-style="normal" fill="#000" stroke="#000" stroke-width="1.59">0.0</text>
<text transform="matrix(0.20231 0.00000 0.00000 0.17746 44.291 174.023)" font-size="100" font-family="&quot;Liberation Sans&quot;, sans-serif" font-style="normal" fill="#000" stroke="#000" stroke-width="1.58">0.1</text>
<text transform="matrix(0.20076 0.00000 0.00000 0.17746 44.297 233.823)" font-size="100" font-family="&quot;Liberation Sans&quot;, sans-serif" font-style="normal" fill="#000" stroke="#000" stroke-width="1.59">0.0</text>
<text transform="matrix(0.20000 0.00000 0.00000 0.18028 33.200 295.720)" font-size="100" font-family="&quot;Liberation Sans&quot;, sans-serif" font-style="normal" fill="#000" stroke="#000" stroke-width="1.58">0.01</text>
<text transform="matrix(0.19893 0.00000 0.00000 0.18028 33.204 372.520)" font-size="100" font-family="&quot;Liberation Sans&quot;, sans-serif" font-style="normal" fill="#000" stroke="#000" stroke-width="1.58">0.00</text>
<text transform="matrix(0.20695 0.00000 0.00000 0.17183 55.872 137.728)" font-size="100" font-family="&quot;Liberation Sans&quot;, sans-serif" font-style="normal" fill="#000" stroke="#000" stroke-width="1.59">0.00</text>
<text transform="matrix(0.20591 0.00000 0.00000 0.17183 133.476 137.728)" font-size="100" font-family="&quot;Liberation Sans&quot;, sans-serif" font-style="normal" fill="#000" stroke="#000" stroke-width="1.59">0.05</text>
<text transform="matrix(0.20321 0.00000 0.00000 0.17183 211.087 137.728)" font-size="100" font-family="&quot;Liberation Sans&quot;, sans-serif" font-style="normal" fill="#000" stroke="#000" stroke-width="1.61">0.10</text>
<text transform="matrix(0.20534 0.00000 0.00000 0.18451 61.479 268.615)" font-size="100" font-family="&quot;Liberation Sans&quot;, sans-serif" font-style="normal" fill="#000" stroke="#000" stroke-width="1.54">0.0</text>
<text transform="matrix(0.20538 0.00000 0.00000 0.18451 138.978 268.615)" font-size="100" font-family="&quot;Liberation Sans&quot;, sans-serif" font-style="normal" fill="#000" stroke="#000" stroke-width="1.54">0.1</text>
<text transform="matrix(0.19769 0.00000 0.00000 0.18451 217.209 268.615)" font-size="100" font-family="&quot;Liberation Sans&quot;, sans-serif" font-style="normal" fill="#000" stroke="#000" stroke-width="1.57">0.2</text>
<text transform="matrix(0.21979 0.00000 0.00000 0.18451 54.401 398.615)" font-size="100" font-family="&quot;Liberation Sans&quot;, sans-serif" font-style="normal" fill="#000" stroke="#000" stroke-width="1.49">−0.2</text>
<text transform="matrix(0.21818 0.00000 0.00000 0.18451 132.309 398.615)" font-size="100" font-family="&quot;Liberation Sans&quot;, sans-serif" font-style="normal" fill="#000" stroke="#000" stroke-width="1.50">−0.1</text>
<text transform="matrix(0.19618 0.00000 0.00000 0.18451 217.215 398.615)" font-size="100" font-family="&quot;Liberation Sans&quot;, sans-serif" font-style="normal" fill="#000" stroke="#000" stroke-width="1.58">0.0</text>
<text transform="matrix(0.22692 0.00000 0.00000 0.26064 199.338 34.027)" font-size="100" font-family="&quot;Liberation Sans&quot;, sans-serif" font-style="normal" fill="#000" stroke="#000" stroke-width="0.82">(</text>
<text transform="matrix(0.15962 0.00000 0.00000 0.21455 207.962 33.585)" font-size="100" font-family="&quot;Liberation Sans&quot;, sans-serif" font-style="normal" fill="#000" stroke="#000" stroke-width="1.35">a</text>
<text transform="matrix(0.21538 0.00000 0.00000 0.26064 219.685 34.027)" font-size="100" font-family="&quot;Liberation Sans&quot;, sans-serif" font-style="normal" fill="#000" stroke="#000" stroke-width="0.84">)</text>
<text transform="matrix(0.22308 0.00000 0.00000 0.26277 199.162 165.182)" font-size="100" font-family="&quot;Liberation Sans&quot;, sans-serif" font-style="normal" fill="#000" stroke="#000" stroke-width="0.83">(</text>
<text transform="matrix(0.20227 0.00000 0.00000 0.23151 207.584 164.900)" font-size="100" font-family="&quot;Liberation Sans&quot;, sans-serif" font-style="normal" fill="#000" stroke="#000" stroke-width="1.16">b</text>
<text transform="matrix(0.21923 0.00000 0.00000 0.26277 219.981 165.182)" font-size="100" font-family="&quot;Liberation Sans&quot;, sans-serif" font-style="normal" fill="#000" stroke="#000" stroke-width="0.83">)</text>
<text transform="matrix(0.22692 0.00000 0.00000 0.25851 199.338 293.671)" font-size="100" font-family="&quot;Liberation Sans&quot;, sans-serif" font-style="normal" fill="#000" stroke="#000" stroke-width="0.83">(</text>
<text transform="matrix(0.20698 0.00000 0.00000 0.20182 208.172 292.898)" font-size="100" font-family="&quot;Liberation Sans&quot;, sans-serif" font-style="normal" fill="#000" stroke="#000" stroke-width="1.22">c</text>
<text transform="matrix(0.21923 0.00000 0.00000 0.25851 219.381 293.671)" font-size="100" font-family="&quot;Liberation Sans&quot;, sans-serif" font-style="normal" fill="#000" stroke="#000" stroke-width="0.84">)</text>
<text transform="matrix(0.23077 0.00000 0.00000 0.26064 459.115 34.027)" font-size="100" font-family="&quot;Liberation Sans&quot;, sans-serif" font-style="normal" fill="#000" stroke="#000" stroke-width="0.82">(</text>
<text transform="matrix(0.19778 0.00000 0.00000 0.22432 467.709 33.376)" font-size="100" font-family="&quot;Liberation Sans&quot;, sans-serif" font-style="normal" fill="#000" stroke="#000" stroke-width="1.19">d</text>
<text transform="matrix(0.21538 0.00000 0.00000 0.26064 480.385 34.027)" font-size="100" font-family="&quot;Liberation Sans&quot;, sans-serif" font-style="normal" fill="#000" stroke="#000" stroke-width="0.84">)</text>
<text transform="matrix(0.23846 0.00000 0.00000 0.26064 651.369 34.027)" font-size="100" font-family="&quot;Liberation Sans&quot;, sans-serif" font-style="normal" fill="#000" stroke="#000" stroke-width="0.80">(</text>
<text transform="matrix(0.19574 0.00000 0.00000 0.21455 659.817 33.585)" font-size="100" font-family="&quot;Liberation Sans&quot;, sans-serif" font-style="normal" fill="#000" stroke="#000" stroke-width="1.22">e</text>
<text transform="matrix(0.21923 0.00000 0.00000 0.26064 671.381 34.027)" font-size="100" font-family="&quot;Liberation Sans&quot;, sans-serif" font-style="normal" fill="#000" stroke="#000" stroke-width="0.84">)</text>
<text transform="matrix(0.20385 0.00000 0.00000 0.25426 461.077 170.561)" font-size="100" font-family="&quot;Liberation Sans&quot;, sans-serif" font-style="normal" fill="#000" stroke="#000" stroke-width="0.88">(</text>
<text transform="matrix(0.24444 0.00000 0.00000 0.22639 469.756 169.826)" font-size="100" font-family="&quot;Liberation Sans&quot;, sans-serif" font-style="normal" fill="#000" stroke="#000" stroke-width="1.06">f</text>
<text transform="matrix(0.23077 0.00000 0.00000 0.25426 478.669 170.561)" font-size="100" font-family="&quot;Liberation Sans&quot;, sans-serif" font-style="normal" fill="#000" stroke="#000" stroke-width="0.83">)</text>
<text transform="matrix(0.22692 0.00000 0.00000 0.26556 651.792 170.123)" font-size="100" font-family="&quot;Liberation Serif&quot;, serif" font-style="normal" fill="#000" stroke="#000" stroke-width="0.81">(</text>
<text transform="matrix(0.21818 0.00000 0.00000 0.20137 659.427 169.471)" font-size="100" font-family="&quot;Liberation Serif&quot;, serif" font-style="normal" fill="#000" stroke="#000" stroke-width="1.19">g</text>
<text transform="matrix(0.20385 0.00000 0.00000 0.26556 671.988 170.123)" font-size="100" font-family="&quot;Liberation Serif&quot;, serif" font-style="normal" fill="#000" stroke="#000" stroke-width="0.86">)</text>
<text transform="matrix(0.23077 0.00000 0.00000 0.25638 460.515 292.216)" font-size="100" font-family="&quot;Liberation Sans&quot;, sans-serif" font-style="normal" fill="#000" stroke="#000" stroke-width="0.82">(</text>
<text transform="matrix(0.19524 0.00000 0.00000 0.22639 469.333 291.826)" font-size="100" font-family="&quot;Liberation Sans&quot;, sans-serif" font-style="normal" fill="#000" stroke="#000" stroke-width="1.19">h</text>
<text transform="matrix(0.23077 0.00000 0.00000 0.25638 481.469 292.216)" font-size="100" font-family="&quot;Liberation Sans&quot;, sans-serif" font-style="normal" fill="#000" stroke="#000" stroke-width="0.82">)</text>
<text transform="matrix(0.23077 0.00000 0.00000 0.25532 654.315 293.638)" font-size="100" font-family="&quot;Liberation Sans&quot;, sans-serif" font-style="normal" fill="#000" stroke="#000" stroke-width="0.82">(</text>
<text transform="matrix(0.26250 0.00000 0.00000 0.21507 662.163 292.800)" font-size="100" font-family="&quot;Liberation Sans&quot;, sans-serif" font-style="normal" fill="#000" stroke="#000" stroke-width="1.05">i</text>
<text transform="matrix(0.23462 0.00000 0.00000 0.25532 668.765 293.638)" font-size="100" font-family="&quot;Liberation Sans&quot;, sans-serif" font-style="normal" fill="#000" stroke="#000" stroke-width="0.82">)</text>
<text transform="matrix(0.00000 -0.28814 0.26769 0.00000 33.400 97.600)" font-size="100" font-family="&quot;Liberation Serif&quot;, serif" font-style="italic" fill="#000" stroke="#fff" stroke-width="0.90">R</text>
<text transform="matrix(0.00000 -0.21333 0.18143 0.00000 37.081 82.340)" font-size="100" font-family="&quot;Liberation Serif&quot;, serif" font-style="normal" fill="#000" stroke="#fff" stroke-width="1.27">f</text>
<text transform="matrix(0.00000 -0.21538 0.27778 0.00000 33.167 65.562)" font-size="100" font-family="&quot;Liberation Serif&quot;, serif" font-style="normal" fill="#000" stroke="#fff" stroke-width="1.02">(</text>
<text transform="matrix(0.00000 -0.19048 0.17246 0.00000 23.100 55.862)" font-size="100" font-family="&quot;Liberation Serif&quot;, serif" font-style="italic" fill="#000" stroke="#fff" stroke-width="1.38">h</text>
<text transform="matrix(0.00000 -0.12000 0.10462 0.00000 35.900 50.380)" font-size="100" font-family="&quot;Liberation Serif&quot;, serif" font-style="normal" fill="#000" stroke="#fff" stroke-width="2.23">2</text>
<text transform="matrix(0.00000 -0.18462 0.16458 0.00000 41.235 58.054)" font-size="100" font-family="&quot;Liberation Serif&quot;, serif" font-style="italic" fill="#000" stroke="#fff" stroke-width="1.43">e</text>
<text transform="matrix(0.00000 -0.22308 0.27778 0.00000 33.167 43.469)" font-size="100" font-family="&quot;Liberation Serif&quot;, serif" font-style="normal" fill="#000" stroke="#fff" stroke-width="1.00">)</text>
<text transform="matrix(0.00000 -0.28814 0.26769 0.00000 33.400 227.700)" font-size="100" font-family="&quot;Liberation Serif&quot;, serif" font-style="italic" fill="#000" stroke="#fff" stroke-width="0.90">R</text>
<text transform="matrix(0.00000 -0.21333 0.18143 0.00000 37.081 212.440)" font-size="100" font-family="&quot;Liberation Serif&quot;, serif" font-style="normal" fill="#000" stroke="#fff" stroke-width="1.27">f</text>
<text transform="matrix(0.00000 -0.21538 0.27778 0.00000 33.167 195.662)" font-size="100" font-family="&quot;Liberation Serif&quot;, serif" font-style="normal" fill="#000" stroke="#fff" stroke-width="1.02">(</text>
<text transform="matrix(0.00000 -0.19048 0.17246 0.00000 23.100 185.962)" font-size="100" font-family="&quot;Liberation Serif&quot;, serif" font-style="italic" fill="#000" stroke="#fff" stroke-width="1.38">h</text>
<text transform="matrix(0.00000 -0.12000 0.10462 0.00000 35.900 180.480)" font-size="100" font-family="&quot;Liberation Serif&quot;, serif" font-style="normal" fill="#000" stroke="#fff" stroke-width="2.23">2</text>
<text transform="matrix(0.00000 -0.18462 0.16458 0.00000 41.235 188.154)" font-size="100" font-family="&quot;Liberation Serif&quot;, serif" font-style="italic" fill="#000" stroke="#fff" stroke-width="1.43">e</text>
<text transform="matrix(0.00000 -0.22308 0.27778 0.00000 33.167 173.569)" font-size="100" font-family="&quot;Liberation Serif&quot;, serif" font-style="normal" fill="#000" stroke="#fff" stroke-width="1.00">)</text>
<text transform="matrix(0.00000 -0.28814 0.26769 0.00000 22.600 357.400)" font-size="100" font-family="&quot;Liberation Serif&quot;, serif" font-style="italic" fill="#000" stroke="#fff" stroke-width="0.90">R</text>
<text transform="matrix(0.00000 -0.21333 0.18143 0.00000 26.281 342.140)" font-size="100" font-family="&quot;Liberation Serif&quot;, serif" font-style="normal" fill="#000" stroke="#fff" stroke-width="1.27">f</text>
<text transform="matrix(0.00000 -0.21538 0.27778 0.00000 22.367 325.362)" font-size="100" font-family="&quot;Liberation Serif&quot;, serif" font-style="normal" fill="#000" stroke="#fff" stroke-width="1.02">(</text>
<text transform="matrix(0.00000 -0.19048 0.17246 0.00000 12.300 315.662)" font-size="100" font-family="&quot;Liberation Serif&quot;, serif" font-style="italic" fill="#000" stroke="#fff" stroke-width="1.38">h</text>
<text transform="matrix(0.00000 -0.12000 0.10462 0.00000 25.100 310.180)" font-size="100" font-family="&quot;Liberation Serif&quot;, serif" font-style="normal" fill="#000" stroke="#fff" stroke-width="2.23">2</text>
<text transform="matrix(0.00000 -0.18462 0.16458 0.00000 30.435 317.854)" font-size="100" font-family="&quot;Liberation Serif&quot;, serif" font-style="italic" fill="#000" stroke="#fff" stroke-width="1.43">e</text>
<text transform="matrix(0.00000 -0.22308 0.27778 0.00000 22.367 303.269)" font-size="100" font-family="&quot;Liberation Serif&quot;, serif" font-style="normal" fill="#000" stroke="#fff" stroke-width="1.00">)</text>
<text transform="matrix(0.29310 0.00000 0.00000 0.24769 124.207 423.600)" font-size="100" font-family="&quot;Liberation Serif&quot;, serif" font-style="italic" fill="#000" stroke="#fff" stroke-width="0.93">B</text>
<text transform="matrix(0.21923 0.00000 0.00000 0.28111 150.923 424.297)" font-size="100" font-family="&quot;Liberation Serif&quot;, serif" font-style="normal" fill="#000" stroke="#fff" stroke-width="1.01">(</text>
<text transform="matrix(0.29825 0.00000 0.00000 0.24769 157.904 423.600)" font-size="100" font-family="&quot;Liberation Serif&quot;, serif" font-style="normal" fill="#000" stroke="#fff" stroke-width="0.92">T</text>
<text transform="matrix(0.21923 0.00000 0.00000 0.28111 175.942 424.297)" font-size="100" font-family="&quot;Liberation Serif&quot;, serif" font-style="normal" fill="#000" stroke="#fff" stroke-width="1.01">)</text>
<text transform="matrix(0.21048 0.00000 0.00000 0.19296 280.316 46.607)" font-size="100" font-family="&quot;Liberation Sans&quot;, sans-serif" font-style="normal" fill="#000" stroke="#000" stroke-width="1.49">1000</text>
<text transform="matrix(0.20503 0.00000 0.00000 0.19155 292.780 94.308)" font-size="100" font-family="&quot;Liberation Sans&quot;, sans-serif" font-style="normal" fill="#000" stroke="#000" stroke-width="1.51">500</text>
<text transform="matrix(0.18958 0.00000 0.00000 0.19296 316.342 141.907)" font-size="100" font-family="&quot;Liberation Sans&quot;, sans-serif" font-style="normal" fill="#000" stroke="#000" stroke-width="1.57">0</text>
<text transform="matrix(0.21048 0.00000 0.00000 0.19296 280.316 174.807)" font-size="100" font-family="&quot;Liberation Sans&quot;, sans-serif" font-style="normal" fill="#000" stroke="#000" stroke-width="1.49">1000</text>
<text transform="matrix(0.20503 0.00000 0.00000 0.19155 292.780 222.508)" font-size="100" font-family="&quot;Liberation Sans&quot;, sans-serif" font-style="normal" fill="#000" stroke="#000" stroke-width="1.51">500</text>
<text transform="matrix(0.18958 0.00000 0.00000 0.19296 316.342 270.107)" font-size="100" font-family="&quot;Liberation Sans&quot;, sans-serif" font-style="normal" fill="#000" stroke="#000" stroke-width="1.57">0</text>
<text transform="matrix(0.21048 0.00000 0.00000 0.19296 280.316 303.007)" font-size="100" font-family="&quot;Liberation Sans&quot;, sans-serif" font-style="normal" fill="#000" stroke="#000" stroke-width="1.49">1000</text>
<text transform="matrix(0.20503 0.00000 0.00000 0.19155 292.780 350.708)" font-size="100" font-family="&quot;Liberation Sans&quot;, sans-serif" font-style="normal" fill="#000" stroke="#000" stroke-width="1.51">500</text>
<text transform="matrix(0.19375 0.00000 0.00000 0.19014 316.525 397.310)" font-size="100" font-family="&quot;Liberation Sans&quot;, sans-serif" font-style="normal" fill="#000" stroke="#000" stroke-width="1.56">0</text>
<text transform="matrix(0.22500 0.00000 0.00000 0.19296 344.375 413.507)" font-size="100" font-family="&quot;Liberation Sans&quot;, sans-serif" font-style="normal" fill="#000" stroke="#000" stroke-width="1.44">−500</text>
<text transform="matrix(0.21250 0.00000 0.00000 0.19296 411.450 413.507)" font-size="100" font-family="&quot;Liberation Sans&quot;, sans-serif" font-style="normal" fill="#000" stroke="#000" stroke-width="1.48">0</text>
<text transform="matrix(0.21006 0.00000 0.00000 0.19296 447.560 413.507)" font-size="100" font-family="&quot;Liberation Sans&quot;, sans-serif" font-style="normal" fill="#000" stroke="#000" stroke-width="1.49">500</text>
<text transform="matrix(0.23102 0.00000 0.00000 0.19859 521.845 414.901)" font-size="100" font-family="&quot;Liberation Sans&quot;, sans-serif" font-style="normal" fill="#000" stroke="#000" stroke-width="1.40">−500</text>
<text transform="matrix(0.23333 0.00000 0.00000 0.19859 589.967 414.901)" font-size="100" font-family="&quot;Liberation Sans&quot;, sans-serif" font-style="normal" fill="#000" stroke="#000" stroke-width="1.39">0</text>
<text transform="matrix(0.21887 0.00000 0.00000 0.19859 627.725 414.901)" font-size="100" font-family="&quot;Liberation Sans&quot;, sans-serif" font-style="normal" fill="#000" stroke="#000" stroke-width="1.44">500</text>
<text transform="matrix(0.00000 -0.33462 0.32333 0.00000 274.310 87.338)" font-size="100" font-family="&quot;Liberation Serif&quot;, serif" font-style="normal" fill="#000" stroke="#fff" stroke-width="0.76">(</text>
<text transform="matrix(0.00000 -0.28145 0.27660 0.00000 273.700 76.363)" font-size="100" font-family="&quot;Liberation Serif&quot;, serif" font-style="normal" fill="#000" stroke="#fff" stroke-width="0.90">nm</text>
<text transform="matrix(0.00000 -0.22692 0.32333 0.00000 274.310 38.581)" font-size="100" font-family="&quot;Liberation Serif&quot;, serif" font-style="normal" fill="#000" stroke="#fff" stroke-width="0.92">)</text>
<text transform="matrix(0.00000 -0.33462 0.32333 0.00000 274.310 215.338)" font-size="100" font-family="&quot;Liberation Serif&quot;, serif" font-style="normal" fill="#000" stroke="#fff" stroke-width="0.76">(</text>
<text transform="matrix(0.00000 -0.28145 0.27660 0.00000 273.700 204.363)" font-size="100" font-family="&quot;Liberation Serif&quot;, serif" font-style="normal" fill="#000" stroke="#fff" stroke-width="0.90">nm</text>
<text transform="matrix(0.00000 -0.22692 0.32333 0.00000 274.310 166.581)" font-size="100" font-family="&quot;Liberation Serif&quot;, serif" font-style="normal" fill="#000" stroke="#fff" stroke-width="0.92">)</text>
<text transform="matrix(0.00000 -0.33462 0.32333 0.00000 274.310 343.338)" font-size="100" font-family="&quot;Liberation Serif&quot;, serif" font-style="normal" fill="#000" stroke="#fff" stroke-width="0.76">(</text>
<text transform="matrix(0.00000 -0.28145 0.27660 0.00000 273.700 332.363)" font-size="100" font-family="&quot;Liberation Serif&quot;, serif" font-style="normal" fill="#000" stroke="#fff" stroke-width="0.90">nm</text>
<text transform="matrix(0.00000 -0.22692 0.32333 0.00000 274.310 294.581)" font-size="100" font-family="&quot;Liberation Serif&quot;, serif" font-style="normal" fill="#000" stroke="#fff" stroke-width="0.92">)</text>
<text transform="matrix(0.24231 0.00000 0.00000 0.33000 402.231 443.170)" font-size="100" font-family="&quot;Liberation Serif&quot;, serif" font-style="normal" fill="#000" stroke="#fff" stroke-width="0.88">(</text>
<text transform="matrix(0.29839 0.00000 0.00000 0.29787 410.903 442.900)" font-size="100" font-family="&quot;Liberation Serif&quot;, serif" font-style="normal" fill="#000" stroke="#fff" stroke-width="0.84">nm</text>
<text transform="matrix(0.24231 0.00000 0.00000 0.33000 450.773 443.170)" font-size="100" font-family="&quot;Liberation Serif&quot;, serif" font-style="normal" fill="#000" stroke="#fff" stroke-width="0.88">)</text>
<text transform="matrix(0.24231 0.00000 0.00000 0.33000 581.031 444.370)" font-size="100" font-family="&quot;Liberation Serif&quot;, serif" font-style="normal" fill="#000" stroke="#fff" stroke-width="0.88">(</text>
<text transform="matrix(0.29839 0.00000 0.00000 0.29787 590.403 444.500)" font-size="100" font-family="&quot;Liberation Serif&quot;, serif" font-style="normal" fill="#000" stroke="#fff" stroke-width="0.84">nm</text>
<text transform="matrix(0.24231 0.00000 0.00000 0.33000 630.073 444.370)" font-size="100" font-family="&quot;Liberation Serif&quot;, serif" font-style="normal" fill="#000" stroke="#fff" stroke-width="0.88">)</text>
<text transform="matrix(0.20625 0.00000 0.00000 0.18310 357.775 65.317)" font-size="100" font-family="&quot;Liberation Sans&quot;, sans-serif" font-style="normal" fill="#000" stroke="#000" stroke-width="1.54">0</text>
<text transform="matrix(0.00000 -0.24565 0.22121 0.00000 388.279 43.691)" font-size="100" font-family="&quot;Liberation Serif&quot;, serif" font-style="italic" fill="#000">J</text>
<text transform="matrix(0.21250 0.00000 0.00000 0.19155 535.450 65.608)" font-size="100" font-family="&quot;Liberation Sans&quot;, sans-serif" font-style="normal" fill="#000" stroke="#000" stroke-width="1.49">0</text>
<text transform="matrix(0.00000 -0.26739 0.24091 0.00000 567.559 43.435)" font-size="100" font-family="&quot;Liberation Serif&quot;, serif" font-style="italic" fill="#000">J</text>
<text transform="matrix(0.20625 0.00000 0.00000 0.18028 357.775 193.920)" font-size="100" font-family="&quot;Liberation Sans&quot;, sans-serif" font-style="normal" fill="#000" stroke="#000" stroke-width="1.56">0</text>
<text transform="matrix(0.00000 -0.24565 0.22121 0.00000 388.279 172.391)" font-size="100" font-family="&quot;Liberation Serif&quot;, serif" font-style="italic" fill="#000">J</text>
<text transform="matrix(0.21250 0.00000 0.00000 0.18732 535.450 194.213)" font-size="100" font-family="&quot;Liberation Sans&quot;, sans-serif" font-style="normal" fill="#000" stroke="#000" stroke-width="1.50">0</text>
<text transform="matrix(0.00000 -0.26087 0.24091 0.00000 567.559 172.422)" font-size="100" font-family="&quot;Liberation Serif&quot;, serif" font-style="italic" fill="#000">J</text>
<text transform="matrix(0.20625 0.00000 0.00000 0.18169 357.775 321.218)" font-size="100" font-family="&quot;Liberation Sans&quot;, sans-serif" font-style="normal" fill="#000" stroke="#000" stroke-width="1.55">0</text>
<text transform="matrix(0.00000 -0.25217 0.22121 0.00000 388.279 299.704)" font-size="100" font-family="&quot;Liberation Serif&quot;, serif" font-style="italic" fill="#000">J</text>
<text transform="matrix(0.21250 0.00000 0.00000 0.18592 535.450 319.514)" font-size="100" font-family="&quot;Liberation Sans&quot;, sans-serif" font-style="normal" fill="#000" stroke="#000" stroke-width="1.51">0</text>
<text transform="matrix(0.00000 -0.25435 0.24091 0.00000 567.559 298.109)" font-size="100" font-family="&quot;Liberation Serif&quot;, serif" font-style="italic" fill="#000">J</text>
</g>
<rect x="347.4" y="17.4" width="5.400000000000034" height="41.0" fill="url(#cb)" stroke="#8a8a8a" stroke-width="0.9"/>
<line x1="372.9" y1="28.6" x2="393.8" y2="28.6" stroke="#6a6a6a" stroke-width="1.1"/>
<line x1="372.9" y1="47.6" x2="393.8" y2="47.6" stroke="#6a6a6a" stroke-width="1.1"/>
<rect x="524.5" y="16.5" width="6.2999999999999545" height="41.9" fill="url(#cb)" stroke="#8a8a8a" stroke-width="0.9"/>
<line x1="551.2" y1="27.7" x2="572.2" y2="27.7" stroke="#6a6a6a" stroke-width="1.1"/>
<line x1="551.2" y1="47.2" x2="572.2" y2="47.2" stroke="#6a6a6a" stroke-width="1.1"/>
<rect x="347.4" y="145.8" width="5.400000000000034" height="41.5" fill="url(#cb)" stroke="#8a8a8a" stroke-width="0.9"/>
<line x1="372.9" y1="157.2" x2="393.8" y2="157.2" stroke="#6a6a6a" stroke-width="1.1"/>
<line x1="372.9" y1="176.2" x2="393.8" y2="176.2" stroke="#6a6a6a" stroke-width="1.1"/>
<rect x="524.5" y="144.9" width="6.2999999999999545" height="42.79999999999998" fill="url(#cb)" stroke="#8a8a8a" stroke-width="0.9"/>
<line x1="551.2" y1="156.3" x2="572.4" y2="156.3" stroke="#6a6a6a" stroke-width="1.1"/>
<line x1="551.2" y1="176.2" x2="572.4" y2="176.2" stroke="#6a6a6a" stroke-width="1.1"/>
<rect x="347.4" y="273.5" width="5.400000000000034" height="41.69999999999999" fill="url(#cb)" stroke="#8a8a8a" stroke-width="0.9"/>
<line x1="372.9" y1="284.6" x2="393.8" y2="284.6" stroke="#6a6a6a" stroke-width="1.1"/>
<line x1="372.9" y1="303.5" x2="393.8" y2="303.5" stroke="#6a6a6a" stroke-width="1.1"/>
<rect x="524.9" y="271.1" width="5.899999999999977" height="41.89999999999998" fill="url(#cb)" stroke="#8a8a8a" stroke-width="0.9"/>
<line x1="551.2" y1="282.2" x2="572.4" y2="282.2" stroke="#6a6a6a" stroke-width="1.1"/>
<line x1="551.2" y1="301.6" x2="572.4" y2="301.6" stroke="#6a6a6a" stroke-width="1.1"/>
<g transform="translate(0,0)" fill="none" stroke="#000" stroke-linecap="round">
<path d="M261.4,98.7 C265,99.7 270,100.7 273.5,101.7 C276.6,102.7 278.7,104.5 278.5,106.6 C278.3,108.2 277.4,109.2 276.6,109.2" stroke-width="1.3"/>
<path d="M261.4,98.7 L272,101.3" stroke-width="1.75"/>
<path d="M273.6,102.4 C273.7,105.2 273.2,107.2 271.0,107.6 C268,108.1 265.5,105.3 263.2,105.4 C261.8,105.5 261.2,106.6 261.6,107.8 C262.1,109.2 263.8,110.4 265.0,110.8" stroke-width="1.15"/>
<circle cx="276.9" cy="108.8" r="1.25" fill="#000" stroke="none"/>
</g>
<g transform="translate(0,128)" fill="none" stroke="#000" stroke-linecap="round">
<path d="M261.4,98.7 C265,99.7 270,100.7 273.5,101.7 C276.6,102.7 278.7,104.5 278.5,106.6 C278.3,108.2 277.4,109.2 276.6,109.2" stroke-width="1.3"/>
<path d="M261.4,98.7 L272,101.3" stroke-width="1.75"/>
<path d="M273.6,102.4 C273.7,105.2 273.2,107.2 271.0,107.6 C268,108.1 265.5,105.3 263.2,105.4 C261.8,105.5 261.2,106.6 261.6,107.8 C262.1,109.2 263.8,110.4 265.0,110.8" stroke-width="1.15"/>
<circle cx="276.9" cy="108.8" r="1.25" fill="#000" stroke="none"/>
</g>
<g transform="translate(0,256)" fill="none" stroke="#000" stroke-linecap="round">
<path d="M261.4,98.7 C265,99.7 270,100.7 273.5,101.7 C276.6,102.7 278.7,104.5 278.5,106.6 C278.3,108.2 277.4,109.2 276.6,109.2" stroke-width="1.3"/>
<path d="M261.4,98.7 L272,101.3" stroke-width="1.75"/>
<path d="M273.6,102.4 C273.7,105.2 273.2,107.2 271.0,107.6 C268,108.1 265.5,105.3 263.2,105.4 C261.8,105.5 261.2,106.6 261.6,107.8 C262.1,109.2 263.8,110.4 265.0,110.8" stroke-width="1.15"/>
<circle cx="276.9" cy="108.8" r="1.25" fill="#000" stroke="none"/>
</g>
<g transform="translate(0,0)" fill="none" stroke="#000" stroke-linecap="round">
<path d="M377.6,433.4 C378.8,430.6 380.6,429.3 382.2,429.4 C383.7,429.5 384.3,430.8 383.9,432.6 L381.9,439.6 C381.5,441.3 382.2,442.4 383.6,442.4 C385.9,442.4 388.2,440.3 389.4,437.8" stroke-width="1.15"/>
<path d="M383.9,432.6 L381.9,439.6" stroke-width="1.65"/>
<path d="M389.6,430.6 C389.0,429.6 388.2,429.3 387.3,429.5 C385.8,429.9 384.7,431.2 384.1,432.4" stroke-width="1.05"/>
<path d="M381.9,439.6 C381.1,441.5 379.8,442.5 378.5,442.5 C377.7,442.5 377.3,442.0 377.3,441.4" stroke-width="1.05"/>
<circle cx="389.0" cy="431.2" r="1.15" fill="#000" stroke="none"/><circle cx="378.1" cy="441.0" r="1.15" fill="#000" stroke="none"/>
</g>
<g transform="translate(178.2,1.5)" fill="none" stroke="#000" stroke-linecap="round">
<path d="M377.6,433.4 C378.8,430.6 380.6,429.3 382.2,429.4 C383.7,429.5 384.3,430.8 383.9,432.6 L381.9,439.6 C381.5,441.3 382.2,442.4 383.6,442.4 C385.9,442.4 388.2,440.3 389.4,437.8" stroke-width="1.15"/>
<path d="M383.9,432.6 L381.9,439.6" stroke-width="1.65"/>
<path d="M389.6,430.6 C389.0,429.6 388.2,429.3 387.3,429.5 C385.8,429.9 384.7,431.2 384.1,432.4" stroke-width="1.05"/>
<path d="M381.9,439.6 C381.1,441.5 379.8,442.5 378.5,442.5 C377.7,442.5 377.3,442.0 377.3,441.4" stroke-width="1.05"/>
<circle cx="389.0" cy="431.2" r="1.15" fill="#000" stroke="none"/><circle cx="378.1" cy="441.0" r="1.15" fill="#000" stroke="none"/>
</g>
</svg></body></html>
